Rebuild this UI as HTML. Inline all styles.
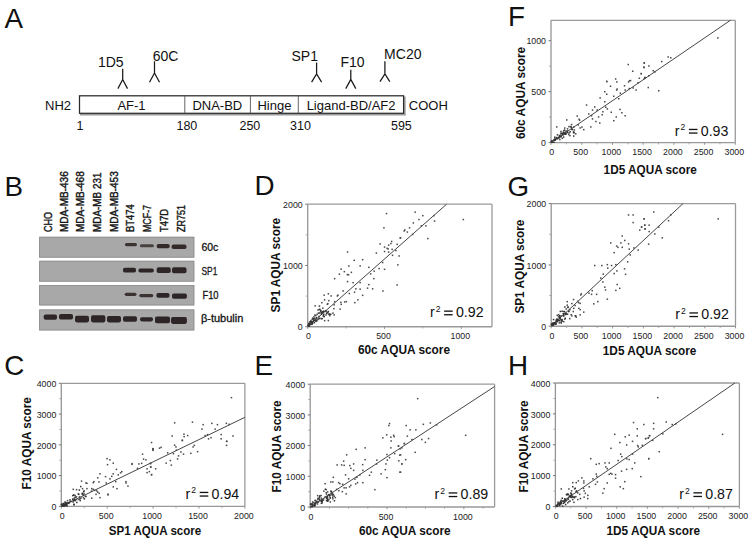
<!DOCTYPE html>
<html><head><meta charset="utf-8"><style>
html,body{margin:0;padding:0;background:#fff;width:750px;height:543px;overflow:hidden}
svg{display:block;font-family:"Liberation Sans", sans-serif}
</style></head><body>
<svg width="750" height="543" viewBox="0 0 750 543">
<rect width="750" height="543" fill="#fff"/>
<text x="4.6" y="28.3" font-size="27.8" fill="#111">A</text>
<text x="4.6" y="196.2" font-size="27.8" fill="#111">B</text>
<text x="4.2" y="375" font-size="27.8" fill="#111">C</text>
<text x="254.6" y="194.8" font-size="27.8" fill="#111">D</text>
<text x="254.6" y="374.5" font-size="27.8" fill="#111">E</text>
<text x="508.0" y="25.8" font-size="27.8" fill="#111">F</text>
<text x="507.4" y="195.8" font-size="27.8" fill="#111">G</text>
<text x="508.0" y="375.4" font-size="27.8" fill="#111">H</text>
<line x1="80.0" y1="114.6" x2="405.40000000000003" y2="114.6" stroke="#9a9a9a" stroke-width="1.6"/>
<line x1="404.90000000000003" y1="96.39999999999999" x2="404.90000000000003" y2="115.3" stroke="#9a9a9a" stroke-width="1.5"/>
<rect x="79.5" y="95.8" width="324.1" height="17.5" fill="#fff" stroke="#2a2a2a" stroke-width="1.25"/>
<line x1="184.8" y1="95.8" x2="184.8" y2="113.3" stroke="#555" stroke-width="0.9"/>
<line x1="250.4" y1="95.8" x2="250.4" y2="113.3" stroke="#555" stroke-width="0.9"/>
<line x1="298.3" y1="95.8" x2="298.3" y2="113.3" stroke="#555" stroke-width="0.9"/>
<text x="131.5" y="110" font-size="13" text-anchor="middle" font-weight="normal" fill="#111" >AF-1</text>
<text x="217.3" y="110" font-size="13" text-anchor="middle" font-weight="normal" fill="#111" >DNA-BD</text>
<text x="274.4" y="110" font-size="13" text-anchor="middle" font-weight="normal" fill="#111" >Hinge</text>
<text x="351.1" y="110" font-size="13" text-anchor="middle" font-weight="normal" fill="#111" >Ligand-BD/AF2</text>
<text x="45.0" y="110" font-size="13" text-anchor="start" font-weight="normal" fill="#111" >NH2</text>
<text x="408.8" y="110" font-size="13" text-anchor="start" font-weight="normal" fill="#111" >COOH</text>
<text x="80" y="129.6" font-size="12.5" text-anchor="middle" font-weight="normal" fill="#111" >1</text>
<text x="186.9" y="129.6" font-size="12.5" text-anchor="middle" font-weight="normal" fill="#111" >180</text>
<text x="249.9" y="129.6" font-size="12.5" text-anchor="middle" font-weight="normal" fill="#111" >250</text>
<text x="300.5" y="129.6" font-size="12.5" text-anchor="middle" font-weight="normal" fill="#111" >310</text>
<text x="401.4" y="129.6" font-size="12.5" text-anchor="middle" font-weight="normal" fill="#111" >595</text>
<text x="110.8" y="67" font-size="14" text-anchor="middle" font-weight="normal" fill="#111" >1D5</text>
<text x="165.5" y="60.7" font-size="14" text-anchor="middle" font-weight="normal" fill="#111" >60C</text>
<text x="304.7" y="60.7" font-size="14" text-anchor="middle" font-weight="normal" fill="#111" >SP1</text>
<text x="352.5" y="66.7" font-size="14" text-anchor="middle" font-weight="normal" fill="#111" >F10</text>
<text x="402.8" y="59.2" font-size="14" text-anchor="middle" font-weight="normal" fill="#111" >MC20</text>
<path d="M122.7 68.8 L122.7 79.5 M117.9 88.6 L122.7 79.5 L127.5 88.6" stroke="#1a1a1a" stroke-width="1.25" fill="none"/>
<path d="M154.5 61.3 L154.5 73 M149.5 82.2 L154.5 73 L159.5 82.2" stroke="#1a1a1a" stroke-width="1.25" fill="none"/>
<path d="M316.6 62.4 L316.6 74 M311.6 82.2 L316.6 74 L321.6 82.2" stroke="#1a1a1a" stroke-width="1.25" fill="none"/>
<path d="M350.8 69.8 L350.8 79.4 M345.8 88.6 L350.8 79.4 L355.8 88.6" stroke="#1a1a1a" stroke-width="1.25" fill="none"/>
<path d="M384.9 61.3 L384.9 74 M380.0 81.6 L384.9 74 L389.79999999999995 81.6" stroke="#1a1a1a" stroke-width="1.25" fill="none"/>
<text transform="translate(51.8,232) rotate(-90)" font-size="10.5" fill="#151515" stroke="#151515" stroke-width="0.4" textLength="20.1" lengthAdjust="spacingAndGlyphs">CHO</text>
<text transform="translate(67.7,232) rotate(-90)" font-size="10.5" fill="#151515" stroke="#151515" stroke-width="0.4" textLength="60.8" lengthAdjust="spacingAndGlyphs">MDA-MB-436</text>
<text transform="translate(84.2,232) rotate(-90)" font-size="10.5" fill="#151515" stroke="#151515" stroke-width="0.4" textLength="60.8" lengthAdjust="spacingAndGlyphs">MDA-MB-468</text>
<text transform="translate(101.2,232) rotate(-90)" font-size="10.5" fill="#151515" stroke="#151515" stroke-width="0.4" textLength="59.4" lengthAdjust="spacingAndGlyphs">MDA-MB 231</text>
<text transform="translate(118.1,232) rotate(-90)" font-size="10.5" fill="#151515" stroke="#151515" stroke-width="0.4" textLength="60.8" lengthAdjust="spacingAndGlyphs">MDA-MB-453</text>
<text transform="translate(133.8,232) rotate(-90)" font-size="10.5" fill="#151515" stroke="#151515" stroke-width="0.4" textLength="27.6" lengthAdjust="spacingAndGlyphs">BT474</text>
<text transform="translate(151.4,232) rotate(-90)" font-size="10.5" fill="#151515" stroke="#151515" stroke-width="0.4" textLength="27.0" lengthAdjust="spacingAndGlyphs">MCF-7</text>
<text transform="translate(168.4,232) rotate(-90)" font-size="10.5" fill="#151515" stroke="#151515" stroke-width="0.4" textLength="23.1" lengthAdjust="spacingAndGlyphs">T47D</text>
<text transform="translate(184.5,232) rotate(-90)" font-size="10.5" fill="#151515" stroke="#151515" stroke-width="0.4" textLength="27.0" lengthAdjust="spacingAndGlyphs">ZR751</text>
<defs><filter id="bl" x="-20%" y="-50%" width="140%" height="200%"><feGaussianBlur stdDeviation="0.55"/></filter></defs>
<rect x="39.2" y="236.8" width="155.1" height="20.80000000000001" fill="#a8a8a8"/>
<rect x="39.6" y="237.20000000000002" width="154.3" height="20.00000000000001" fill="none" stroke="#8c8c8c" stroke-width="0.8"/>
<rect x="39.2" y="260.8" width="155.1" height="20.80000000000001" fill="#a8a8a8"/>
<rect x="39.6" y="261.2" width="154.3" height="20.00000000000001" fill="none" stroke="#8c8c8c" stroke-width="0.8"/>
<rect x="39.2" y="285.0" width="155.1" height="20.399999999999977" fill="#a8a8a8"/>
<rect x="39.6" y="285.4" width="154.3" height="19.599999999999977" fill="none" stroke="#8c8c8c" stroke-width="0.8"/>
<rect x="39.2" y="309.5" width="155.1" height="20.899999999999977" fill="#a8a8a8"/>
<rect x="39.6" y="309.9" width="154.3" height="20.099999999999977" fill="none" stroke="#8c8c8c" stroke-width="0.8"/>
<rect x="124.9" y="243.0" width="12.1" height="3.2" rx="1.6" ry="1.6" fill="#3a3030" filter="url(#bl)"/>
<rect x="139.9" y="244.2" width="14.0" height="3.0" rx="1.5" ry="1.5" fill="#4a4040" filter="url(#bl)"/>
<rect x="156.7" y="244.0" width="13.0" height="4.2" rx="1.8" ry="1.8" fill="#352b2b" filter="url(#bl)"/>
<rect x="171.6" y="244.6" width="14.9" height="4.4" rx="1.8" ry="1.8" fill="#352b2b" filter="url(#bl)"/>
<rect x="123.0" y="267.7" width="13.0" height="4.9" rx="1.8" ry="1.8" fill="#2e2626" filter="url(#bl)"/>
<rect x="138.4" y="268.6" width="15.5" height="4.0" rx="1.8" ry="1.8" fill="#2e2626" filter="url(#bl)"/>
<rect x="156.7" y="267.3" width="14.0" height="5.7" rx="1.8" ry="1.8" fill="#2e2626" filter="url(#bl)"/>
<rect x="172.0" y="267.3" width="14.5" height="6.0" rx="1.8" ry="1.8" fill="#2e2626" filter="url(#bl)"/>
<rect x="124.7" y="292.7" width="11.8" height="3.2" rx="1.6" ry="1.6" fill="#3a3030" filter="url(#bl)"/>
<rect x="139.3" y="294.0" width="14.0" height="3.2" rx="1.6" ry="1.6" fill="#3a3030" filter="url(#bl)"/>
<rect x="156.4" y="293.0" width="13.1" height="4.7" rx="1.8" ry="1.8" fill="#2e2626" filter="url(#bl)"/>
<rect x="172.0" y="293.4" width="14.9" height="5.3" rx="1.8" ry="1.8" fill="#2e2626" filter="url(#bl)"/>
<rect x="43.7" y="314.4" width="13.3" height="5.3" rx="1.8" ry="1.8" fill="#2e2626" filter="url(#bl)"/>
<rect x="59.0" y="314.1" width="14.0" height="5.4" rx="1.8" ry="1.8" fill="#2e2626" filter="url(#bl)"/>
<rect x="75.0" y="315.7" width="14.0" height="6.7" rx="1.8" ry="1.8" fill="#2e2626" filter="url(#bl)"/>
<rect x="91.0" y="315.3" width="14.4" height="7.1" rx="1.8" ry="1.8" fill="#2e2626" filter="url(#bl)"/>
<rect x="107.0" y="316.0" width="14.0" height="6.4" rx="1.8" ry="1.8" fill="#2e2626" filter="url(#bl)"/>
<rect x="123.0" y="316.3" width="14.0" height="5.5" rx="1.8" ry="1.8" fill="#2e2626" filter="url(#bl)"/>
<rect x="140.0" y="317.3" width="13.0" height="4.1" rx="1.8" ry="1.8" fill="#2e2626" filter="url(#bl)"/>
<rect x="155.0" y="316.4" width="15.0" height="6.9" rx="1.8" ry="1.8" fill="#2e2626" filter="url(#bl)"/>
<rect x="171.0" y="317.0" width="15.9" height="6.9" rx="1.8" ry="1.8" fill="#2e2626" filter="url(#bl)"/>
<text x="201.5" y="250.9" font-size="10.5" fill="#151515" stroke="#151515" stroke-width="0.3" textLength="16.8" lengthAdjust="spacingAndGlyphs">60c</text>
<text x="201.5" y="274.8" font-size="10.5" fill="#151515" stroke="#151515" stroke-width="0.3" textLength="15.8" lengthAdjust="spacingAndGlyphs">SP1</text>
<text x="202.4" y="299" font-size="10.5" fill="#151515" stroke="#151515" stroke-width="0.3" textLength="16.2" lengthAdjust="spacingAndGlyphs">F10</text>
<text x="200.9" y="322" font-size="10.5" fill="#151515" stroke="#151515" stroke-width="0.3" textLength="42.5" lengthAdjust="spacingAndGlyphs">β-tubulin</text>
<line x1="61.3" y1="383.3" x2="244.9" y2="383.3" stroke="#9a9a9a" stroke-width="1.3"/>
<line x1="244.9" y1="383.3" x2="244.9" y2="506.4" stroke="#9a9a9a" stroke-width="1.3"/>
<line x1="61.3" y1="506.4" x2="244.9" y2="506.4" stroke="#999" stroke-width="1.4"/>
<line x1="61.3" y1="383.3" x2="61.3" y2="506.4" stroke="#959595" stroke-width="1.3"/>
<line x1="58.8" y1="506.4" x2="61.3" y2="506.4" stroke="#777" stroke-width="1"/>
<text x="56.3" y="510.0" font-size="9.8" text-anchor="end" fill="#222" textLength="4.9" lengthAdjust="spacingAndGlyphs">0</text>
<line x1="58.8" y1="475.625" x2="61.3" y2="475.625" stroke="#777" stroke-width="1"/>
<text x="56.3" y="479.2" font-size="9.8" text-anchor="end" fill="#222" textLength="19.6" lengthAdjust="spacingAndGlyphs">1000</text>
<line x1="58.8" y1="444.85" x2="61.3" y2="444.85" stroke="#777" stroke-width="1"/>
<text x="56.3" y="448.5" font-size="9.8" text-anchor="end" fill="#222" textLength="19.6" lengthAdjust="spacingAndGlyphs">2000</text>
<line x1="58.8" y1="414.075" x2="61.3" y2="414.075" stroke="#777" stroke-width="1"/>
<text x="56.3" y="417.7" font-size="9.8" text-anchor="end" fill="#222" textLength="19.6" lengthAdjust="spacingAndGlyphs">3000</text>
<line x1="58.8" y1="383.3" x2="61.3" y2="383.3" stroke="#777" stroke-width="1"/>
<text x="56.3" y="386.9" font-size="9.8" text-anchor="end" fill="#222" textLength="19.6" lengthAdjust="spacingAndGlyphs">4000</text>
<line x1="59.3" y1="491.0125" x2="61.3" y2="491.0125" stroke="#999" stroke-width="0.8"/>
<line x1="59.3" y1="460.2375" x2="61.3" y2="460.2375" stroke="#999" stroke-width="0.8"/>
<line x1="59.3" y1="429.4625" x2="61.3" y2="429.4625" stroke="#999" stroke-width="0.8"/>
<line x1="59.3" y1="398.6875" x2="61.3" y2="398.6875" stroke="#999" stroke-width="0.8"/>
<line x1="61.3" y1="506.4" x2="61.3" y2="508.59999999999997" stroke="#888" stroke-width="0.9"/>
<text x="62.1" y="518.9" font-size="9.8" text-anchor="middle" fill="#222" textLength="4.9" lengthAdjust="spacingAndGlyphs">0</text>
<line x1="107.2" y1="506.4" x2="107.2" y2="508.59999999999997" stroke="#888" stroke-width="0.9"/>
<text x="106.2" y="518.9" font-size="9.8" text-anchor="middle" fill="#222" textLength="14.7" lengthAdjust="spacingAndGlyphs">500</text>
<line x1="153.10000000000002" y1="506.4" x2="153.10000000000002" y2="508.59999999999997" stroke="#888" stroke-width="0.9"/>
<text x="152.1" y="518.9" font-size="9.8" text-anchor="middle" fill="#222" textLength="19.6" lengthAdjust="spacingAndGlyphs">1000</text>
<line x1="199.0" y1="506.4" x2="199.0" y2="508.59999999999997" stroke="#888" stroke-width="0.9"/>
<text x="198.0" y="518.9" font-size="9.8" text-anchor="middle" fill="#222" textLength="19.6" lengthAdjust="spacingAndGlyphs">1500</text>
<line x1="244.90000000000003" y1="506.4" x2="244.90000000000003" y2="508.59999999999997" stroke="#888" stroke-width="0.9"/>
<text x="243.9" y="518.9" font-size="9.8" text-anchor="middle" fill="#222" textLength="19.6" lengthAdjust="spacingAndGlyphs">2000</text>
<line x1="84.25" y1="506.4" x2="84.25" y2="508.2" stroke="#999" stroke-width="0.8"/>
<line x1="130.15" y1="506.4" x2="130.15" y2="508.2" stroke="#999" stroke-width="0.8"/>
<line x1="176.05" y1="506.4" x2="176.05" y2="508.2" stroke="#999" stroke-width="0.8"/>
<line x1="221.95" y1="506.4" x2="221.95" y2="508.2" stroke="#999" stroke-width="0.8"/>
<line x1="61.3" y1="506.4" x2="244.9" y2="417.3" stroke="#3c3c3c" stroke-width="0.95"/>
<rect x="152.3" y="448.1" width="1.5" height="1.5" fill="#484848"/>
<rect x="152.3" y="449.6" width="1.5" height="1.5" fill="#484848"/>
<rect x="141.8" y="453.4" width="1.5" height="1.5" fill="#484848"/>
<rect x="145.2" y="459.1" width="1.5" height="1.5" fill="#484848"/>
<rect x="142.8" y="458.4" width="1.5" height="1.5" fill="#484848"/>
<rect x="106.3" y="457.9" width="1.5" height="1.5" fill="#484848"/>
<rect x="109.2" y="459.1" width="1.5" height="1.5" fill="#484848"/>
<rect x="106.8" y="463.9" width="1.5" height="1.5" fill="#484848"/>
<rect x="112.5" y="462.4" width="1.5" height="1.5" fill="#484848"/>
<rect x="131.4" y="462.9" width="1.5" height="1.5" fill="#484848"/>
<rect x="131.2" y="463.6" width="1.5" height="1.5" fill="#484848"/>
<rect x="138.1" y="463.2" width="1.5" height="1.5" fill="#484848"/>
<rect x="140.9" y="462.6" width="1.5" height="1.5" fill="#484848"/>
<rect x="149.8" y="462.9" width="1.5" height="1.5" fill="#484848"/>
<rect x="150.2" y="466.4" width="1.5" height="1.5" fill="#484848"/>
<rect x="146.3" y="468.1" width="1.5" height="1.5" fill="#484848"/>
<rect x="136.8" y="467.6" width="1.5" height="1.5" fill="#484848"/>
<rect x="146.3" y="471.9" width="1.5" height="1.5" fill="#484848"/>
<rect x="148.6" y="470.9" width="1.5" height="1.5" fill="#484848"/>
<rect x="150.8" y="474.1" width="1.5" height="1.5" fill="#484848"/>
<rect x="115.7" y="468.6" width="1.5" height="1.5" fill="#484848"/>
<rect x="121.0" y="470.9" width="1.5" height="1.5" fill="#484848"/>
<rect x="119.8" y="472.1" width="1.5" height="1.5" fill="#484848"/>
<rect x="117.5" y="474.1" width="1.5" height="1.5" fill="#484848"/>
<rect x="99.2" y="473.1" width="1.5" height="1.5" fill="#484848"/>
<rect x="97.0" y="477.1" width="1.5" height="1.5" fill="#484848"/>
<rect x="104.8" y="475.9" width="1.5" height="1.5" fill="#484848"/>
<rect x="111.0" y="475.6" width="1.5" height="1.5" fill="#484848"/>
<rect x="112.5" y="473.1" width="1.5" height="1.5" fill="#484848"/>
<rect x="109.2" y="478.1" width="1.5" height="1.5" fill="#484848"/>
<rect x="93.2" y="480.9" width="1.5" height="1.5" fill="#484848"/>
<rect x="92.5" y="481.9" width="1.5" height="1.5" fill="#484848"/>
<rect x="98.2" y="481.2" width="1.5" height="1.5" fill="#484848"/>
<rect x="85.2" y="482.2" width="1.5" height="1.5" fill="#484848"/>
<rect x="86.2" y="482.6" width="1.5" height="1.5" fill="#484848"/>
<rect x="80.8" y="480.4" width="1.5" height="1.5" fill="#484848"/>
<rect x="105.5" y="482.2" width="1.5" height="1.5" fill="#484848"/>
<rect x="115.0" y="480.9" width="1.5" height="1.5" fill="#484848"/>
<rect x="125.2" y="480.9" width="1.5" height="1.5" fill="#484848"/>
<rect x="125.3" y="482.2" width="1.5" height="1.5" fill="#484848"/>
<rect x="127.2" y="485.4" width="1.5" height="1.5" fill="#484848"/>
<rect x="112.5" y="486.1" width="1.5" height="1.5" fill="#484848"/>
<rect x="116.2" y="487.9" width="1.5" height="1.5" fill="#484848"/>
<rect x="72.5" y="488.6" width="1.5" height="1.5" fill="#484848"/>
<rect x="75.8" y="488.9" width="1.5" height="1.5" fill="#484848"/>
<rect x="81.8" y="487.9" width="1.5" height="1.5" fill="#484848"/>
<rect x="86.2" y="487.9" width="1.5" height="1.5" fill="#484848"/>
<rect x="91.0" y="487.9" width="1.5" height="1.5" fill="#484848"/>
<rect x="92.5" y="488.6" width="1.5" height="1.5" fill="#484848"/>
<rect x="94.0" y="489.6" width="1.5" height="1.5" fill="#484848"/>
<rect x="96.0" y="490.1" width="1.5" height="1.5" fill="#484848"/>
<rect x="97.0" y="491.4" width="1.5" height="1.5" fill="#484848"/>
<rect x="90.7" y="490.4" width="1.5" height="1.5" fill="#484848"/>
<rect x="98.5" y="492.6" width="1.5" height="1.5" fill="#484848"/>
<rect x="95.3" y="493.6" width="1.5" height="1.5" fill="#484848"/>
<rect x="107.2" y="493.4" width="1.5" height="1.5" fill="#484848"/>
<rect x="107.3" y="494.2" width="1.5" height="1.5" fill="#484848"/>
<rect x="99.2" y="496.9" width="1.5" height="1.5" fill="#484848"/>
<rect x="91.0" y="497.4" width="1.5" height="1.5" fill="#484848"/>
<rect x="83.3" y="489.9" width="1.5" height="1.5" fill="#484848"/>
<rect x="83.3" y="493.1" width="1.5" height="1.5" fill="#484848"/>
<rect x="85.2" y="495.6" width="1.5" height="1.5" fill="#484848"/>
<rect x="82.7" y="496.9" width="1.5" height="1.5" fill="#484848"/>
<rect x="78.2" y="493.6" width="1.5" height="1.5" fill="#484848"/>
<rect x="78.8" y="496.1" width="1.5" height="1.5" fill="#484848"/>
<rect x="80.2" y="497.4" width="1.5" height="1.5" fill="#484848"/>
<rect x="74.5" y="494.9" width="1.5" height="1.5" fill="#484848"/>
<rect x="75.8" y="496.1" width="1.5" height="1.5" fill="#484848"/>
<rect x="72.0" y="494.9" width="1.5" height="1.5" fill="#484848"/>
<rect x="73.2" y="494.2" width="1.5" height="1.5" fill="#484848"/>
<rect x="75.8" y="498.8" width="1.5" height="1.5" fill="#484848"/>
<rect x="74.5" y="499.9" width="1.5" height="1.5" fill="#484848"/>
<rect x="72.0" y="498.8" width="1.5" height="1.5" fill="#484848"/>
<rect x="66.8" y="499.9" width="1.5" height="1.5" fill="#484848"/>
<rect x="64.3" y="501.2" width="1.5" height="1.5" fill="#484848"/>
<rect x="69.3" y="500.6" width="1.5" height="1.5" fill="#484848"/>
<rect x="68.2" y="501.9" width="1.5" height="1.5" fill="#484848"/>
<rect x="61.8" y="503.1" width="1.5" height="1.5" fill="#484848"/>
<rect x="63.0" y="502.6" width="1.5" height="1.5" fill="#484848"/>
<rect x="60.5" y="503.8" width="1.5" height="1.5" fill="#484848"/>
<rect x="65.5" y="502.6" width="1.5" height="1.5" fill="#484848"/>
<rect x="79.5" y="499.9" width="1.5" height="1.5" fill="#484848"/>
<rect x="78.2" y="498.8" width="1.5" height="1.5" fill="#484848"/>
<rect x="230.7" y="396.9" width="1.5" height="1.5" fill="#484848"/>
<rect x="173.9" y="422.1" width="1.5" height="1.5" fill="#484848"/>
<rect x="191.7" y="421.4" width="1.5" height="1.5" fill="#484848"/>
<rect x="202.4" y="423.9" width="1.5" height="1.5" fill="#484848"/>
<rect x="211.1" y="422.6" width="1.5" height="1.5" fill="#484848"/>
<rect x="216.7" y="423.9" width="1.5" height="1.5" fill="#484848"/>
<rect x="225.6" y="422.6" width="1.5" height="1.5" fill="#484848"/>
<rect x="228.4" y="423.6" width="1.5" height="1.5" fill="#484848"/>
<rect x="201.2" y="428.4" width="1.5" height="1.5" fill="#484848"/>
<rect x="214.4" y="428.4" width="1.5" height="1.5" fill="#484848"/>
<rect x="171.4" y="435.2" width="1.5" height="1.5" fill="#484848"/>
<rect x="183.2" y="433.4" width="1.5" height="1.5" fill="#484848"/>
<rect x="183.4" y="435.9" width="1.5" height="1.5" fill="#484848"/>
<rect x="186.9" y="434.8" width="1.5" height="1.5" fill="#484848"/>
<rect x="204.3" y="434.9" width="1.5" height="1.5" fill="#484848"/>
<rect x="206.8" y="433.9" width="1.5" height="1.5" fill="#484848"/>
<rect x="220.4" y="433.8" width="1.5" height="1.5" fill="#484848"/>
<rect x="232.2" y="435.2" width="1.5" height="1.5" fill="#484848"/>
<rect x="181.6" y="439.4" width="1.5" height="1.5" fill="#484848"/>
<rect x="207.8" y="438.1" width="1.5" height="1.5" fill="#484848"/>
<rect x="210.3" y="436.9" width="1.5" height="1.5" fill="#484848"/>
<rect x="220.4" y="438.1" width="1.5" height="1.5" fill="#484848"/>
<rect x="226.2" y="440.6" width="1.5" height="1.5" fill="#484848"/>
<rect x="181.6" y="439.9" width="1.5" height="1.5" fill="#484848"/>
<rect x="150.8" y="441.8" width="1.5" height="1.5" fill="#484848"/>
<rect x="152.1" y="447.9" width="1.5" height="1.5" fill="#484848"/>
<rect x="152.1" y="449.1" width="1.5" height="1.5" fill="#484848"/>
<rect x="158.8" y="447.4" width="1.5" height="1.5" fill="#484848"/>
<rect x="160.3" y="446.6" width="1.5" height="1.5" fill="#484848"/>
<rect x="173.9" y="444.4" width="1.5" height="1.5" fill="#484848"/>
<rect x="175.2" y="446.2" width="1.5" height="1.5" fill="#484848"/>
<rect x="193.6" y="444.6" width="1.5" height="1.5" fill="#484848"/>
<rect x="192.3" y="446.2" width="1.5" height="1.5" fill="#484848"/>
<rect x="166.9" y="452.1" width="1.5" height="1.5" fill="#484848"/>
<rect x="172.7" y="452.9" width="1.5" height="1.5" fill="#484848"/>
<rect x="175.6" y="449.4" width="1.5" height="1.5" fill="#484848"/>
<rect x="180.2" y="451.2" width="1.5" height="1.5" fill="#484848"/>
<rect x="182.8" y="453.4" width="1.5" height="1.5" fill="#484848"/>
<rect x="190.1" y="452.6" width="1.5" height="1.5" fill="#484848"/>
<rect x="196.8" y="450.9" width="1.5" height="1.5" fill="#484848"/>
<rect x="177.8" y="455.1" width="1.5" height="1.5" fill="#484848"/>
<rect x="176.8" y="458.2" width="1.5" height="1.5" fill="#484848"/>
<rect x="169.6" y="459.8" width="1.5" height="1.5" fill="#484848"/>
<rect x="165.4" y="462.4" width="1.5" height="1.5" fill="#484848"/>
<rect x="170.6" y="464.4" width="1.5" height="1.5" fill="#484848"/>
<rect x="149.8" y="462.6" width="1.5" height="1.5" fill="#484848"/>
<rect x="149.8" y="466.1" width="1.5" height="1.5" fill="#484848"/>
<rect x="154.9" y="468.1" width="1.5" height="1.5" fill="#484848"/>
<rect x="150.8" y="473.8" width="1.5" height="1.5" fill="#484848"/>
<rect x="225.8" y="440.6" width="1.5" height="1.5" fill="#484848"/>
<rect x="225.8" y="444.6" width="1.5" height="1.5" fill="#484848"/>
<rect x="61.4" y="503.6" width="1.5" height="1.5" fill="#333"/>
<rect x="77.5" y="493.2" width="1.5" height="1.5" fill="#333"/>
<rect x="61.4" y="504.2" width="1.5" height="1.5" fill="#333"/>
<rect x="62.1" y="505.0" width="1.5" height="1.5" fill="#333"/>
<rect x="76.1" y="501.7" width="1.5" height="1.5" fill="#333"/>
<rect x="64.6" y="502.0" width="1.5" height="1.5" fill="#333"/>
<rect x="66.4" y="505.3" width="1.5" height="1.5" fill="#333"/>
<rect x="66.4" y="501.9" width="1.5" height="1.5" fill="#333"/>
<rect x="61.5" y="505.3" width="1.5" height="1.5" fill="#333"/>
<rect x="63.3" y="505.3" width="1.5" height="1.5" fill="#333"/>
<rect x="73.2" y="503.5" width="1.5" height="1.5" fill="#333"/>
<rect x="66.3" y="503.3" width="1.5" height="1.5" fill="#333"/>
<rect x="65.1" y="504.7" width="1.5" height="1.5" fill="#333"/>
<rect x="64.7" y="503.8" width="1.5" height="1.5" fill="#333"/>
<rect x="79.1" y="498.2" width="1.5" height="1.5" fill="#333"/>
<rect x="73.1" y="499.7" width="1.5" height="1.5" fill="#333"/>
<rect x="72.3" y="498.2" width="1.5" height="1.5" fill="#333"/>
<rect x="64.9" y="502.9" width="1.5" height="1.5" fill="#333"/>
<rect x="65.0" y="503.7" width="1.5" height="1.5" fill="#333"/>
<rect x="65.3" y="503.3" width="1.5" height="1.5" fill="#333"/>
<rect x="74.0" y="499.0" width="1.5" height="1.5" fill="#333"/>
<rect x="82.6" y="494.2" width="1.5" height="1.5" fill="#333"/>
<rect x="81.6" y="492.5" width="1.5" height="1.5" fill="#333"/>
<rect x="81.5" y="493.4" width="1.5" height="1.5" fill="#333"/>
<rect x="65.7" y="504.5" width="1.5" height="1.5" fill="#333"/>
<rect x="64.6" y="503.8" width="1.5" height="1.5" fill="#333"/>
<rect x="68.0" y="502.6" width="1.5" height="1.5" fill="#333"/>
<rect x="70.2" y="500.7" width="1.5" height="1.5" fill="#333"/>
<rect x="78.6" y="489.3" width="1.5" height="1.5" fill="#333"/>
<rect x="63.7" y="505.3" width="1.5" height="1.5" fill="#333"/>
<rect x="72.8" y="494.5" width="1.5" height="1.5" fill="#333"/>
<rect x="62.7" y="505.3" width="1.5" height="1.5" fill="#333"/>
<rect x="62.8" y="504.5" width="1.5" height="1.5" fill="#333"/>
<rect x="74.7" y="496.5" width="1.5" height="1.5" fill="#333"/>
<rect x="73.8" y="497.2" width="1.5" height="1.5" fill="#333"/>
<rect x="83.0" y="491.0" width="1.5" height="1.5" fill="#333"/>
<rect x="83.6" y="498.1" width="1.5" height="1.5" fill="#333"/>
<rect x="68.0" y="502.0" width="1.5" height="1.5" fill="#333"/>
<rect x="62.3" y="504.5" width="1.5" height="1.5" fill="#333"/>
<rect x="65.4" y="503.1" width="1.5" height="1.5" fill="#333"/>
<rect x="64.1" y="503.4" width="1.5" height="1.5" fill="#333"/>
<rect x="73.6" y="499.5" width="1.5" height="1.5" fill="#333"/>
<rect x="84.7" y="495.7" width="1.5" height="1.5" fill="#333"/>
<rect x="69.3" y="499.1" width="1.5" height="1.5" fill="#333"/>
<rect x="72.4" y="501.2" width="1.5" height="1.5" fill="#333"/>
<rect x="62.1" y="504.2" width="1.5" height="1.5" fill="#333"/>
<rect x="80.0" y="485.8" width="1.5" height="1.5" fill="#333"/>
<rect x="62.1" y="504.0" width="1.5" height="1.5" fill="#333"/>
<rect x="63.0" y="503.9" width="1.5" height="1.5" fill="#333"/>
<rect x="73.3" y="504.1" width="1.5" height="1.5" fill="#333"/>
<text x="108.8" y="535.1" font-size="12.5" font-weight="bold" fill="#111" textLength="92.5" lengthAdjust="spacingAndGlyphs">SP1 AQUA score</text>
<text transform="translate(31.3,489.5) rotate(-90)" font-size="12.5" font-weight="bold" fill="#111" textLength="92.3" lengthAdjust="spacingAndGlyphs">F10 AQUA score</text>
<text x="239.2" y="498.7" font-size="14.2" text-anchor="end" fill="#111">0.94</text>
<rect x="199.7" y="491.8" width="8.6" height="1.3" fill="#111"/>
<rect x="199.7" y="495.4" width="8.6" height="1.3" fill="#111"/>
<text x="193.7" y="493.3" font-size="8.6" text-anchor="middle" fill="#111">2</text>
<text x="185.6" y="498.7" font-size="14.2" fill="#111">r</text>
<line x1="307.7" y1="204.2" x2="492.0" y2="204.2" stroke="#9a9a9a" stroke-width="1.3"/>
<line x1="492.0" y1="204.2" x2="492.0" y2="326.7" stroke="#9a9a9a" stroke-width="1.3"/>
<line x1="307.7" y1="326.7" x2="492.0" y2="326.7" stroke="#999" stroke-width="1.4"/>
<line x1="307.7" y1="204.2" x2="307.7" y2="326.7" stroke="#959595" stroke-width="1.3"/>
<line x1="305.2" y1="326.7" x2="307.7" y2="326.7" stroke="#777" stroke-width="1"/>
<text x="302.7" y="330.3" font-size="9.8" text-anchor="end" fill="#222" textLength="4.9" lengthAdjust="spacingAndGlyphs">0</text>
<line x1="305.2" y1="265.45" x2="307.7" y2="265.45" stroke="#777" stroke-width="1"/>
<text x="302.7" y="269.1" font-size="9.8" text-anchor="end" fill="#222" textLength="19.6" lengthAdjust="spacingAndGlyphs">1000</text>
<line x1="305.2" y1="204.2" x2="307.7" y2="204.2" stroke="#777" stroke-width="1"/>
<text x="302.7" y="207.8" font-size="9.8" text-anchor="end" fill="#222" textLength="19.6" lengthAdjust="spacingAndGlyphs">2000</text>
<line x1="305.7" y1="296.075" x2="307.7" y2="296.075" stroke="#999" stroke-width="0.8"/>
<line x1="305.7" y1="234.825" x2="307.7" y2="234.825" stroke="#999" stroke-width="0.8"/>
<line x1="307.7" y1="326.7" x2="307.7" y2="328.9" stroke="#888" stroke-width="0.9"/>
<text x="308.5" y="339.2" font-size="9.8" text-anchor="middle" fill="#222" textLength="4.9" lengthAdjust="spacingAndGlyphs">0</text>
<line x1="384.4916666666667" y1="326.7" x2="384.4916666666667" y2="328.9" stroke="#888" stroke-width="0.9"/>
<text x="383.5" y="339.2" font-size="9.8" text-anchor="middle" fill="#222" textLength="14.7" lengthAdjust="spacingAndGlyphs">500</text>
<line x1="461.2833333333333" y1="326.7" x2="461.2833333333333" y2="328.9" stroke="#888" stroke-width="0.9"/>
<text x="460.3" y="339.2" font-size="9.8" text-anchor="middle" fill="#222" textLength="19.6" lengthAdjust="spacingAndGlyphs">1000</text>
<line x1="346.0958333333333" y1="326.7" x2="346.0958333333333" y2="328.5" stroke="#999" stroke-width="0.8"/>
<line x1="422.8875" y1="326.7" x2="422.8875" y2="328.5" stroke="#999" stroke-width="0.8"/>
<line x1="307.7" y1="326.7" x2="446.6" y2="204.2" stroke="#3c3c3c" stroke-width="0.95"/>
<rect x="348.1" y="265.2" width="1.5" height="1.5" fill="#484848"/>
<rect x="359.4" y="265.2" width="1.5" height="1.5" fill="#484848"/>
<rect x="368.1" y="266.6" width="1.5" height="1.5" fill="#484848"/>
<rect x="340.4" y="268.4" width="1.5" height="1.5" fill="#484848"/>
<rect x="343.6" y="270.9" width="1.5" height="1.5" fill="#484848"/>
<rect x="346.6" y="273.8" width="1.5" height="1.5" fill="#484848"/>
<rect x="347.8" y="274.1" width="1.5" height="1.5" fill="#484848"/>
<rect x="350.6" y="271.6" width="1.5" height="1.5" fill="#484848"/>
<rect x="338.6" y="273.4" width="1.5" height="1.5" fill="#484848"/>
<rect x="333.9" y="277.9" width="1.5" height="1.5" fill="#484848"/>
<rect x="346.8" y="280.8" width="1.5" height="1.5" fill="#484848"/>
<rect x="352.4" y="281.9" width="1.5" height="1.5" fill="#484848"/>
<rect x="359.4" y="281.9" width="1.5" height="1.5" fill="#484848"/>
<rect x="369.9" y="273.1" width="1.5" height="1.5" fill="#484848"/>
<rect x="373.1" y="277.9" width="1.5" height="1.5" fill="#484848"/>
<rect x="373.4" y="270.4" width="1.5" height="1.5" fill="#484848"/>
<rect x="378.4" y="267.8" width="1.5" height="1.5" fill="#484848"/>
<rect x="383.8" y="268.6" width="1.5" height="1.5" fill="#484848"/>
<rect x="368.1" y="283.9" width="1.5" height="1.5" fill="#484848"/>
<rect x="366.8" y="287.4" width="1.5" height="1.5" fill="#484848"/>
<rect x="371.9" y="288.1" width="1.5" height="1.5" fill="#484848"/>
<rect x="355.1" y="288.1" width="1.5" height="1.5" fill="#484848"/>
<rect x="359.4" y="288.4" width="1.5" height="1.5" fill="#484848"/>
<rect x="382.2" y="290.2" width="1.5" height="1.5" fill="#484848"/>
<rect x="396.4" y="284.2" width="1.5" height="1.5" fill="#484848"/>
<rect x="342.4" y="290.2" width="1.5" height="1.5" fill="#484848"/>
<rect x="337.2" y="294.4" width="1.5" height="1.5" fill="#484848"/>
<rect x="336.6" y="295.2" width="1.5" height="1.5" fill="#484848"/>
<rect x="348.6" y="292.8" width="1.5" height="1.5" fill="#484848"/>
<rect x="353.8" y="291.4" width="1.5" height="1.5" fill="#484848"/>
<rect x="361.9" y="294.6" width="1.5" height="1.5" fill="#484848"/>
<rect x="323.4" y="294.4" width="1.5" height="1.5" fill="#484848"/>
<rect x="330.4" y="295.2" width="1.5" height="1.5" fill="#484848"/>
<rect x="327.6" y="293.1" width="1.5" height="1.5" fill="#484848"/>
<rect x="323.8" y="299.1" width="1.5" height="1.5" fill="#484848"/>
<rect x="328.1" y="299.9" width="1.5" height="1.5" fill="#484848"/>
<rect x="327.1" y="302.9" width="1.5" height="1.5" fill="#484848"/>
<rect x="326.6" y="303.6" width="1.5" height="1.5" fill="#484848"/>
<rect x="333.9" y="300.9" width="1.5" height="1.5" fill="#484848"/>
<rect x="340.1" y="301.6" width="1.5" height="1.5" fill="#484848"/>
<rect x="343.9" y="301.2" width="1.5" height="1.5" fill="#484848"/>
<rect x="345.6" y="300.9" width="1.5" height="1.5" fill="#484848"/>
<rect x="354.1" y="301.9" width="1.5" height="1.5" fill="#484848"/>
<rect x="357.1" y="299.1" width="1.5" height="1.5" fill="#484848"/>
<rect x="340.4" y="303.6" width="1.5" height="1.5" fill="#484848"/>
<rect x="314.4" y="305.1" width="1.5" height="1.5" fill="#484848"/>
<rect x="321.1" y="301.9" width="1.5" height="1.5" fill="#484848"/>
<rect x="333.4" y="304.1" width="1.5" height="1.5" fill="#484848"/>
<rect x="339.4" y="308.4" width="1.5" height="1.5" fill="#484848"/>
<rect x="333.1" y="307.9" width="1.5" height="1.5" fill="#484848"/>
<rect x="322.1" y="307.4" width="1.5" height="1.5" fill="#484848"/>
<rect x="318.9" y="308.6" width="1.5" height="1.5" fill="#484848"/>
<rect x="320.1" y="309.9" width="1.5" height="1.5" fill="#484848"/>
<rect x="325.2" y="309.9" width="1.5" height="1.5" fill="#484848"/>
<rect x="327.1" y="311.8" width="1.5" height="1.5" fill="#484848"/>
<rect x="328.4" y="313.1" width="1.5" height="1.5" fill="#484848"/>
<rect x="332.2" y="312.4" width="1.5" height="1.5" fill="#484848"/>
<rect x="333.4" y="314.2" width="1.5" height="1.5" fill="#484848"/>
<rect x="329.1" y="314.9" width="1.5" height="1.5" fill="#484848"/>
<rect x="325.2" y="314.2" width="1.5" height="1.5" fill="#484848"/>
<rect x="323.4" y="315.6" width="1.5" height="1.5" fill="#484848"/>
<rect x="317.6" y="312.4" width="1.5" height="1.5" fill="#484848"/>
<rect x="316.4" y="313.6" width="1.5" height="1.5" fill="#484848"/>
<rect x="315.1" y="314.9" width="1.5" height="1.5" fill="#484848"/>
<rect x="313.2" y="316.1" width="1.5" height="1.5" fill="#484848"/>
<rect x="311.9" y="317.4" width="1.5" height="1.5" fill="#484848"/>
<rect x="311.4" y="318.8" width="1.5" height="1.5" fill="#484848"/>
<rect x="310.1" y="319.9" width="1.5" height="1.5" fill="#484848"/>
<rect x="308.8" y="321.2" width="1.5" height="1.5" fill="#484848"/>
<rect x="308.1" y="322.6" width="1.5" height="1.5" fill="#484848"/>
<rect x="307.6" y="323.8" width="1.5" height="1.5" fill="#484848"/>
<rect x="313.9" y="317.4" width="1.5" height="1.5" fill="#484848"/>
<rect x="315.8" y="316.9" width="1.5" height="1.5" fill="#484848"/>
<rect x="318.2" y="315.6" width="1.5" height="1.5" fill="#484848"/>
<rect x="318.9" y="317.4" width="1.5" height="1.5" fill="#484848"/>
<rect x="317.1" y="318.8" width="1.5" height="1.5" fill="#484848"/>
<rect x="321.4" y="312.4" width="1.5" height="1.5" fill="#484848"/>
<rect x="323.9" y="319.9" width="1.5" height="1.5" fill="#484848"/>
<rect x="327.6" y="319.8" width="1.5" height="1.5" fill="#484848"/>
<rect x="385.8" y="212.8" width="1.5" height="1.5" fill="#484848"/>
<rect x="383.2" y="227.1" width="1.5" height="1.5" fill="#484848"/>
<rect x="399.4" y="237.2" width="1.5" height="1.5" fill="#484848"/>
<rect x="390.9" y="240.7" width="1.5" height="1.5" fill="#484848"/>
<rect x="379.4" y="243.2" width="1.5" height="1.5" fill="#484848"/>
<rect x="390.1" y="242.8" width="1.5" height="1.5" fill="#484848"/>
<rect x="387.9" y="244.4" width="1.5" height="1.5" fill="#484848"/>
<rect x="383.8" y="246.3" width="1.5" height="1.5" fill="#484848"/>
<rect x="386.4" y="247.6" width="1.5" height="1.5" fill="#484848"/>
<rect x="387.4" y="248.2" width="1.5" height="1.5" fill="#484848"/>
<rect x="391.4" y="248.6" width="1.5" height="1.5" fill="#484848"/>
<rect x="383.8" y="250.8" width="1.5" height="1.5" fill="#484848"/>
<rect x="387.9" y="251.3" width="1.5" height="1.5" fill="#484848"/>
<rect x="395.1" y="249.8" width="1.5" height="1.5" fill="#484848"/>
<rect x="396.4" y="243.6" width="1.5" height="1.5" fill="#484848"/>
<rect x="375.6" y="252.3" width="1.5" height="1.5" fill="#484848"/>
<rect x="391.8" y="254.6" width="1.5" height="1.5" fill="#484848"/>
<rect x="398.4" y="255.2" width="1.5" height="1.5" fill="#484848"/>
<rect x="346.8" y="251.2" width="1.5" height="1.5" fill="#484848"/>
<rect x="353.4" y="259.6" width="1.5" height="1.5" fill="#484848"/>
<rect x="361.9" y="258.9" width="1.5" height="1.5" fill="#484848"/>
<rect x="381.9" y="261.8" width="1.5" height="1.5" fill="#484848"/>
<rect x="397.1" y="264.1" width="1.5" height="1.5" fill="#484848"/>
<rect x="414.4" y="211.4" width="1.5" height="1.5" fill="#484848"/>
<rect x="422.1" y="214.9" width="1.5" height="1.5" fill="#484848"/>
<rect x="418.2" y="218.8" width="1.5" height="1.5" fill="#484848"/>
<rect x="412.6" y="222.2" width="1.5" height="1.5" fill="#484848"/>
<rect x="433.1" y="214.9" width="1.5" height="1.5" fill="#484848"/>
<rect x="433.8" y="220.3" width="1.5" height="1.5" fill="#484848"/>
<rect x="420.6" y="225.1" width="1.5" height="1.5" fill="#484848"/>
<rect x="425.2" y="225.1" width="1.5" height="1.5" fill="#484848"/>
<rect x="408.8" y="227.1" width="1.5" height="1.5" fill="#484848"/>
<rect x="404.1" y="229.2" width="1.5" height="1.5" fill="#484848"/>
<rect x="403.4" y="230.2" width="1.5" height="1.5" fill="#484848"/>
<rect x="406.6" y="231.3" width="1.5" height="1.5" fill="#484848"/>
<rect x="411.9" y="233.7" width="1.5" height="1.5" fill="#484848"/>
<rect x="427.1" y="237.8" width="1.5" height="1.5" fill="#484848"/>
<rect x="462.6" y="218.8" width="1.5" height="1.5" fill="#484848"/>
<rect x="399.9" y="237.2" width="1.5" height="1.5" fill="#484848"/>
<rect x="307.2" y="324.9" width="1.5" height="1.5" fill="#333"/>
<rect x="319.9" y="310.4" width="1.5" height="1.5" fill="#333"/>
<rect x="310.9" y="320.9" width="1.5" height="1.5" fill="#333"/>
<rect x="308.3" y="323.0" width="1.5" height="1.5" fill="#333"/>
<rect x="313.1" y="318.4" width="1.5" height="1.5" fill="#333"/>
<rect x="308.7" y="324.4" width="1.5" height="1.5" fill="#333"/>
<rect x="328.2" y="313.7" width="1.5" height="1.5" fill="#333"/>
<rect x="319.1" y="308.8" width="1.5" height="1.5" fill="#333"/>
<rect x="325.9" y="312.9" width="1.5" height="1.5" fill="#333"/>
<rect x="325.2" y="310.7" width="1.5" height="1.5" fill="#333"/>
<rect x="320.7" y="313.5" width="1.5" height="1.5" fill="#333"/>
<rect x="311.2" y="323.6" width="1.5" height="1.5" fill="#333"/>
<rect x="326.4" y="311.7" width="1.5" height="1.5" fill="#333"/>
<rect x="308.6" y="325.2" width="1.5" height="1.5" fill="#333"/>
<rect x="327.6" y="310.8" width="1.5" height="1.5" fill="#333"/>
<rect x="316.1" y="320.0" width="1.5" height="1.5" fill="#333"/>
<rect x="315.2" y="320.6" width="1.5" height="1.5" fill="#333"/>
<rect x="312.5" y="318.0" width="1.5" height="1.5" fill="#333"/>
<rect x="314.2" y="314.3" width="1.5" height="1.5" fill="#333"/>
<rect x="321.4" y="317.9" width="1.5" height="1.5" fill="#333"/>
<rect x="312.0" y="321.0" width="1.5" height="1.5" fill="#333"/>
<rect x="322.1" y="311.3" width="1.5" height="1.5" fill="#333"/>
<rect x="314.1" y="319.5" width="1.5" height="1.5" fill="#333"/>
<rect x="320.6" y="311.5" width="1.5" height="1.5" fill="#333"/>
<rect x="318.2" y="318.0" width="1.5" height="1.5" fill="#333"/>
<rect x="308.0" y="325.1" width="1.5" height="1.5" fill="#333"/>
<rect x="322.7" y="310.5" width="1.5" height="1.5" fill="#333"/>
<rect x="314.9" y="319.8" width="1.5" height="1.5" fill="#333"/>
<rect x="322.5" y="315.1" width="1.5" height="1.5" fill="#333"/>
<rect x="308.9" y="322.9" width="1.5" height="1.5" fill="#333"/>
<rect x="317.4" y="309.2" width="1.5" height="1.5" fill="#333"/>
<rect x="323.2" y="310.6" width="1.5" height="1.5" fill="#333"/>
<rect x="315.3" y="318.1" width="1.5" height="1.5" fill="#333"/>
<rect x="313.6" y="321.9" width="1.5" height="1.5" fill="#333"/>
<rect x="318.7" y="312.3" width="1.5" height="1.5" fill="#333"/>
<rect x="310.0" y="323.6" width="1.5" height="1.5" fill="#333"/>
<rect x="323.0" y="313.5" width="1.5" height="1.5" fill="#333"/>
<rect x="321.8" y="311.3" width="1.5" height="1.5" fill="#333"/>
<rect x="311.9" y="322.7" width="1.5" height="1.5" fill="#333"/>
<rect x="323.3" y="315.9" width="1.5" height="1.5" fill="#333"/>
<rect x="318.7" y="305.4" width="1.5" height="1.5" fill="#333"/>
<rect x="309.9" y="321.5" width="1.5" height="1.5" fill="#333"/>
<rect x="310.3" y="322.0" width="1.5" height="1.5" fill="#333"/>
<rect x="320.5" y="312.4" width="1.5" height="1.5" fill="#333"/>
<rect x="310.3" y="321.1" width="1.5" height="1.5" fill="#333"/>
<rect x="320.5" y="317.9" width="1.5" height="1.5" fill="#333"/>
<rect x="330.0" y="313.5" width="1.5" height="1.5" fill="#333"/>
<rect x="309.3" y="323.6" width="1.5" height="1.5" fill="#333"/>
<rect x="310.1" y="321.5" width="1.5" height="1.5" fill="#333"/>
<rect x="313.0" y="319.9" width="1.5" height="1.5" fill="#333"/>
<text x="357.9" y="354.2" font-size="12.5" font-weight="bold" fill="#111" textLength="92.2" lengthAdjust="spacingAndGlyphs">60c AQUA score</text>
<text transform="translate(280.4,312.4) rotate(-90)" font-size="12.5" font-weight="bold" fill="#111" textLength="94.5" lengthAdjust="spacingAndGlyphs">SP1 AQUA score</text>
<text x="483.6" y="317.4" font-size="14.2" text-anchor="end" fill="#111">0.92</text>
<rect x="444.1" y="310.5" width="8.6" height="1.3" fill="#111"/>
<rect x="444.1" y="314.1" width="8.6" height="1.3" fill="#111"/>
<text x="438.1" y="312.0" font-size="8.6" text-anchor="middle" fill="#111">2</text>
<text x="430.0" y="317.4" font-size="14.2" fill="#111">r</text>
<line x1="310.2" y1="384.2" x2="494.6" y2="384.2" stroke="#9a9a9a" stroke-width="1.3"/>
<line x1="494.6" y1="384.2" x2="494.6" y2="507.0" stroke="#9a9a9a" stroke-width="1.3"/>
<line x1="310.2" y1="507.0" x2="494.6" y2="507.0" stroke="#999" stroke-width="1.4"/>
<line x1="310.2" y1="384.2" x2="310.2" y2="507.0" stroke="#959595" stroke-width="1.3"/>
<line x1="307.7" y1="507.0" x2="310.2" y2="507.0" stroke="#777" stroke-width="1"/>
<text x="305.2" y="510.6" font-size="9.8" text-anchor="end" fill="#222" textLength="4.9" lengthAdjust="spacingAndGlyphs">0</text>
<line x1="307.7" y1="476.3" x2="310.2" y2="476.3" stroke="#777" stroke-width="1"/>
<text x="305.2" y="479.9" font-size="9.8" text-anchor="end" fill="#222" textLength="19.6" lengthAdjust="spacingAndGlyphs">1000</text>
<line x1="307.7" y1="445.6" x2="310.2" y2="445.6" stroke="#777" stroke-width="1"/>
<text x="305.2" y="449.2" font-size="9.8" text-anchor="end" fill="#222" textLength="19.6" lengthAdjust="spacingAndGlyphs">2000</text>
<line x1="307.7" y1="414.9" x2="310.2" y2="414.9" stroke="#777" stroke-width="1"/>
<text x="305.2" y="418.5" font-size="9.8" text-anchor="end" fill="#222" textLength="19.6" lengthAdjust="spacingAndGlyphs">3000</text>
<line x1="307.7" y1="384.2" x2="310.2" y2="384.2" stroke="#777" stroke-width="1"/>
<text x="305.2" y="387.8" font-size="9.8" text-anchor="end" fill="#222" textLength="19.6" lengthAdjust="spacingAndGlyphs">4000</text>
<line x1="308.2" y1="491.65" x2="310.2" y2="491.65" stroke="#999" stroke-width="0.8"/>
<line x1="308.2" y1="460.95" x2="310.2" y2="460.95" stroke="#999" stroke-width="0.8"/>
<line x1="308.2" y1="430.25" x2="310.2" y2="430.25" stroke="#999" stroke-width="0.8"/>
<line x1="308.2" y1="399.55" x2="310.2" y2="399.55" stroke="#999" stroke-width="0.8"/>
<line x1="310.2" y1="507.0" x2="310.2" y2="509.2" stroke="#888" stroke-width="0.9"/>
<text x="311.0" y="519.5" font-size="9.8" text-anchor="middle" fill="#222" textLength="4.9" lengthAdjust="spacingAndGlyphs">0</text>
<line x1="387.03333333333336" y1="507.0" x2="387.03333333333336" y2="509.2" stroke="#888" stroke-width="0.9"/>
<text x="386.0" y="519.5" font-size="9.8" text-anchor="middle" fill="#222" textLength="14.7" lengthAdjust="spacingAndGlyphs">500</text>
<line x1="463.8666666666667" y1="507.0" x2="463.8666666666667" y2="509.2" stroke="#888" stroke-width="0.9"/>
<text x="462.9" y="519.5" font-size="9.8" text-anchor="middle" fill="#222" textLength="19.6" lengthAdjust="spacingAndGlyphs">1000</text>
<line x1="329.4083333333333" y1="507.0" x2="329.4083333333333" y2="508.8" stroke="#999" stroke-width="0.8"/>
<line x1="348.6166666666667" y1="507.0" x2="348.6166666666667" y2="508.8" stroke="#999" stroke-width="0.8"/>
<line x1="367.825" y1="507.0" x2="367.825" y2="508.8" stroke="#999" stroke-width="0.8"/>
<line x1="406.2416666666667" y1="507.0" x2="406.2416666666667" y2="508.8" stroke="#999" stroke-width="0.8"/>
<line x1="425.45000000000005" y1="507.0" x2="425.45000000000005" y2="508.8" stroke="#999" stroke-width="0.8"/>
<line x1="444.65833333333336" y1="507.0" x2="444.65833333333336" y2="508.8" stroke="#999" stroke-width="0.8"/>
<line x1="483.07500000000005" y1="507.0" x2="483.07500000000005" y2="508.8" stroke="#999" stroke-width="0.8"/>
<line x1="310.2" y1="507.0" x2="494.6" y2="386.5" stroke="#3c3c3c" stroke-width="0.95"/>
<rect x="355.4" y="448.6" width="1.5" height="1.5" fill="#484848"/>
<rect x="364.4" y="447.1" width="1.5" height="1.5" fill="#484848"/>
<rect x="390.1" y="447.1" width="1.5" height="1.5" fill="#484848"/>
<rect x="397.6" y="445.2" width="1.5" height="1.5" fill="#484848"/>
<rect x="399.4" y="448.1" width="1.5" height="1.5" fill="#484848"/>
<rect x="401.1" y="447.1" width="1.5" height="1.5" fill="#484848"/>
<rect x="393.9" y="452.9" width="1.5" height="1.5" fill="#484848"/>
<rect x="345.9" y="454.1" width="1.5" height="1.5" fill="#484848"/>
<rect x="386.2" y="453.8" width="1.5" height="1.5" fill="#484848"/>
<rect x="398.9" y="454.4" width="1.5" height="1.5" fill="#484848"/>
<rect x="388.8" y="456.9" width="1.5" height="1.5" fill="#484848"/>
<rect x="364.4" y="458.9" width="1.5" height="1.5" fill="#484848"/>
<rect x="376.1" y="459.4" width="1.5" height="1.5" fill="#484848"/>
<rect x="386.6" y="459.4" width="1.5" height="1.5" fill="#484848"/>
<rect x="398.1" y="460.1" width="1.5" height="1.5" fill="#484848"/>
<rect x="342.9" y="460.4" width="1.5" height="1.5" fill="#484848"/>
<rect x="336.4" y="464.2" width="1.5" height="1.5" fill="#484848"/>
<rect x="340.9" y="464.2" width="1.5" height="1.5" fill="#484848"/>
<rect x="343.4" y="464.6" width="1.5" height="1.5" fill="#484848"/>
<rect x="352.9" y="463.2" width="1.5" height="1.5" fill="#484848"/>
<rect x="349.1" y="464.8" width="1.5" height="1.5" fill="#484848"/>
<rect x="361.9" y="463.9" width="1.5" height="1.5" fill="#484848"/>
<rect x="375.8" y="463.2" width="1.5" height="1.5" fill="#484848"/>
<rect x="385.2" y="463.2" width="1.5" height="1.5" fill="#484848"/>
<rect x="401.1" y="463.2" width="1.5" height="1.5" fill="#484848"/>
<rect x="350.1" y="467.6" width="1.5" height="1.5" fill="#484848"/>
<rect x="352.9" y="469.6" width="1.5" height="1.5" fill="#484848"/>
<rect x="362.1" y="469.6" width="1.5" height="1.5" fill="#484848"/>
<rect x="384.6" y="468.9" width="1.5" height="1.5" fill="#484848"/>
<rect x="399.1" y="471.4" width="1.5" height="1.5" fill="#484848"/>
<rect x="370.6" y="471.4" width="1.5" height="1.5" fill="#484848"/>
<rect x="368.8" y="474.6" width="1.5" height="1.5" fill="#484848"/>
<rect x="380.4" y="473.1" width="1.5" height="1.5" fill="#484848"/>
<rect x="386.2" y="476.9" width="1.5" height="1.5" fill="#484848"/>
<rect x="344.8" y="474.1" width="1.5" height="1.5" fill="#484848"/>
<rect x="332.6" y="476.6" width="1.5" height="1.5" fill="#484848"/>
<rect x="347.9" y="478.1" width="1.5" height="1.5" fill="#484848"/>
<rect x="354.2" y="478.4" width="1.5" height="1.5" fill="#484848"/>
<rect x="356.1" y="476.6" width="1.5" height="1.5" fill="#484848"/>
<rect x="359.2" y="474.1" width="1.5" height="1.5" fill="#484848"/>
<rect x="330.1" y="481.2" width="1.5" height="1.5" fill="#484848"/>
<rect x="332.1" y="481.2" width="1.5" height="1.5" fill="#484848"/>
<rect x="337.8" y="481.9" width="1.5" height="1.5" fill="#484848"/>
<rect x="339.1" y="482.9" width="1.5" height="1.5" fill="#484848"/>
<rect x="341.9" y="483.6" width="1.5" height="1.5" fill="#484848"/>
<rect x="356.8" y="481.9" width="1.5" height="1.5" fill="#484848"/>
<rect x="354.9" y="483.2" width="1.5" height="1.5" fill="#484848"/>
<rect x="362.1" y="481.9" width="1.5" height="1.5" fill="#484848"/>
<rect x="350.1" y="484.6" width="1.5" height="1.5" fill="#484848"/>
<rect x="348.8" y="486.1" width="1.5" height="1.5" fill="#484848"/>
<rect x="324.4" y="482.9" width="1.5" height="1.5" fill="#484848"/>
<rect x="343.4" y="487.1" width="1.5" height="1.5" fill="#484848"/>
<rect x="345.4" y="487.1" width="1.5" height="1.5" fill="#484848"/>
<rect x="374.1" y="488.9" width="1.5" height="1.5" fill="#484848"/>
<rect x="325.4" y="488.9" width="1.5" height="1.5" fill="#484848"/>
<rect x="335.9" y="488.6" width="1.5" height="1.5" fill="#484848"/>
<rect x="338.1" y="489.9" width="1.5" height="1.5" fill="#484848"/>
<rect x="341.6" y="490.9" width="1.5" height="1.5" fill="#484848"/>
<rect x="345.4" y="493.1" width="1.5" height="1.5" fill="#484848"/>
<rect x="323.1" y="490.4" width="1.5" height="1.5" fill="#484848"/>
<rect x="326.9" y="491.1" width="1.5" height="1.5" fill="#484848"/>
<rect x="330.1" y="490.4" width="1.5" height="1.5" fill="#484848"/>
<rect x="331.4" y="492.4" width="1.5" height="1.5" fill="#484848"/>
<rect x="325.8" y="493.6" width="1.5" height="1.5" fill="#484848"/>
<rect x="328.2" y="494.2" width="1.5" height="1.5" fill="#484848"/>
<rect x="332.6" y="493.6" width="1.5" height="1.5" fill="#484848"/>
<rect x="334.6" y="496.9" width="1.5" height="1.5" fill="#484848"/>
<rect x="332.1" y="498.1" width="1.5" height="1.5" fill="#484848"/>
<rect x="329.6" y="497.4" width="1.5" height="1.5" fill="#484848"/>
<rect x="328.2" y="498.8" width="1.5" height="1.5" fill="#484848"/>
<rect x="322.9" y="498.1" width="1.5" height="1.5" fill="#484848"/>
<rect x="322.6" y="499.4" width="1.5" height="1.5" fill="#484848"/>
<rect x="320.6" y="497.4" width="1.5" height="1.5" fill="#484848"/>
<rect x="320.6" y="499.9" width="1.5" height="1.5" fill="#484848"/>
<rect x="318.8" y="496.1" width="1.5" height="1.5" fill="#484848"/>
<rect x="316.9" y="494.9" width="1.5" height="1.5" fill="#484848"/>
<rect x="316.9" y="498.8" width="1.5" height="1.5" fill="#484848"/>
<rect x="315.6" y="500.6" width="1.5" height="1.5" fill="#484848"/>
<rect x="314.4" y="499.9" width="1.5" height="1.5" fill="#484848"/>
<rect x="313.1" y="501.9" width="1.5" height="1.5" fill="#484848"/>
<rect x="311.8" y="503.1" width="1.5" height="1.5" fill="#484848"/>
<rect x="310.6" y="503.8" width="1.5" height="1.5" fill="#484848"/>
<rect x="320.6" y="502.6" width="1.5" height="1.5" fill="#484848"/>
<rect x="329.6" y="501.2" width="1.5" height="1.5" fill="#484848"/>
<rect x="325.8" y="499.9" width="1.5" height="1.5" fill="#484848"/>
<rect x="324.4" y="496.1" width="1.5" height="1.5" fill="#484848"/>
<rect x="388.8" y="422.8" width="1.5" height="1.5" fill="#484848"/>
<rect x="388.1" y="424.8" width="1.5" height="1.5" fill="#484848"/>
<rect x="385.9" y="434.1" width="1.5" height="1.5" fill="#484848"/>
<rect x="382.1" y="437.1" width="1.5" height="1.5" fill="#484848"/>
<rect x="390.1" y="436.4" width="1.5" height="1.5" fill="#484848"/>
<rect x="392.9" y="434.6" width="1.5" height="1.5" fill="#484848"/>
<rect x="393.4" y="435.9" width="1.5" height="1.5" fill="#484848"/>
<rect x="390.4" y="440.2" width="1.5" height="1.5" fill="#484848"/>
<rect x="403.6" y="442.8" width="1.5" height="1.5" fill="#484848"/>
<rect x="397.9" y="445.4" width="1.5" height="1.5" fill="#484848"/>
<rect x="416.9" y="397.9" width="1.5" height="1.5" fill="#484848"/>
<rect x="405.4" y="424.8" width="1.5" height="1.5" fill="#484848"/>
<rect x="422.6" y="423.6" width="1.5" height="1.5" fill="#484848"/>
<rect x="429.6" y="422.2" width="1.5" height="1.5" fill="#484848"/>
<rect x="435.9" y="424.1" width="1.5" height="1.5" fill="#484848"/>
<rect x="409.4" y="429.1" width="1.5" height="1.5" fill="#484848"/>
<rect x="415.1" y="429.1" width="1.5" height="1.5" fill="#484848"/>
<rect x="406.6" y="435.4" width="1.5" height="1.5" fill="#484848"/>
<rect x="411.2" y="438.8" width="1.5" height="1.5" fill="#484848"/>
<rect x="421.1" y="438.8" width="1.5" height="1.5" fill="#484848"/>
<rect x="427.8" y="437.8" width="1.5" height="1.5" fill="#484848"/>
<rect x="424.6" y="441.6" width="1.5" height="1.5" fill="#484848"/>
<rect x="403.6" y="442.8" width="1.5" height="1.5" fill="#484848"/>
<rect x="464.9" y="434.6" width="1.5" height="1.5" fill="#484848"/>
<rect x="414.4" y="451.6" width="1.5" height="1.5" fill="#484848"/>
<rect x="404.9" y="458.9" width="1.5" height="1.5" fill="#484848"/>
<rect x="401.1" y="463.2" width="1.5" height="1.5" fill="#484848"/>
<rect x="399.9" y="454.1" width="1.5" height="1.5" fill="#484848"/>
<rect x="399.9" y="471.4" width="1.5" height="1.5" fill="#484848"/>
<rect x="328.7" y="495.1" width="1.5" height="1.5" fill="#333"/>
<rect x="313.3" y="505.0" width="1.5" height="1.5" fill="#333"/>
<rect x="327.1" y="500.1" width="1.5" height="1.5" fill="#333"/>
<rect x="332.1" y="494.4" width="1.5" height="1.5" fill="#333"/>
<rect x="310.4" y="505.9" width="1.5" height="1.5" fill="#333"/>
<rect x="314.7" y="499.7" width="1.5" height="1.5" fill="#333"/>
<rect x="330.6" y="491.1" width="1.5" height="1.5" fill="#333"/>
<rect x="313.6" y="505.3" width="1.5" height="1.5" fill="#333"/>
<rect x="326.9" y="499.9" width="1.5" height="1.5" fill="#333"/>
<rect x="313.7" y="504.6" width="1.5" height="1.5" fill="#333"/>
<rect x="321.4" y="502.0" width="1.5" height="1.5" fill="#333"/>
<rect x="314.8" y="502.1" width="1.5" height="1.5" fill="#333"/>
<rect x="328.2" y="493.9" width="1.5" height="1.5" fill="#333"/>
<rect x="326.6" y="495.7" width="1.5" height="1.5" fill="#333"/>
<rect x="318.5" y="498.6" width="1.5" height="1.5" fill="#333"/>
<rect x="313.9" y="503.0" width="1.5" height="1.5" fill="#333"/>
<rect x="314.1" y="503.5" width="1.5" height="1.5" fill="#333"/>
<rect x="326.7" y="498.7" width="1.5" height="1.5" fill="#333"/>
<rect x="320.5" y="500.5" width="1.5" height="1.5" fill="#333"/>
<rect x="325.5" y="492.0" width="1.5" height="1.5" fill="#333"/>
<rect x="321.2" y="500.8" width="1.5" height="1.5" fill="#333"/>
<rect x="314.4" y="504.7" width="1.5" height="1.5" fill="#333"/>
<rect x="326.7" y="500.0" width="1.5" height="1.5" fill="#333"/>
<rect x="311.9" y="501.3" width="1.5" height="1.5" fill="#333"/>
<rect x="321.6" y="499.2" width="1.5" height="1.5" fill="#333"/>
<rect x="324.6" y="488.5" width="1.5" height="1.5" fill="#333"/>
<rect x="316.7" y="503.2" width="1.5" height="1.5" fill="#333"/>
<rect x="321.3" y="500.1" width="1.5" height="1.5" fill="#333"/>
<rect x="318.6" y="497.1" width="1.5" height="1.5" fill="#333"/>
<rect x="330.1" y="494.3" width="1.5" height="1.5" fill="#333"/>
<rect x="326.8" y="497.3" width="1.5" height="1.5" fill="#333"/>
<rect x="332.0" y="496.4" width="1.5" height="1.5" fill="#333"/>
<rect x="330.6" y="490.8" width="1.5" height="1.5" fill="#333"/>
<rect x="329.4" y="496.7" width="1.5" height="1.5" fill="#333"/>
<rect x="326.1" y="496.9" width="1.5" height="1.5" fill="#333"/>
<rect x="311.5" y="504.0" width="1.5" height="1.5" fill="#333"/>
<rect x="316.0" y="501.4" width="1.5" height="1.5" fill="#333"/>
<rect x="317.3" y="497.6" width="1.5" height="1.5" fill="#333"/>
<rect x="317.8" y="500.9" width="1.5" height="1.5" fill="#333"/>
<rect x="317.3" y="501.2" width="1.5" height="1.5" fill="#333"/>
<rect x="320.3" y="494.8" width="1.5" height="1.5" fill="#333"/>
<rect x="311.5" y="505.9" width="1.5" height="1.5" fill="#333"/>
<rect x="310.7" y="503.2" width="1.5" height="1.5" fill="#333"/>
<rect x="309.8" y="503.4" width="1.5" height="1.5" fill="#333"/>
<rect x="331.3" y="493.3" width="1.5" height="1.5" fill="#333"/>
<rect x="333.5" y="495.4" width="1.5" height="1.5" fill="#333"/>
<rect x="333.7" y="500.0" width="1.5" height="1.5" fill="#333"/>
<rect x="325.8" y="497.7" width="1.5" height="1.5" fill="#333"/>
<rect x="319.0" y="495.2" width="1.5" height="1.5" fill="#333"/>
<rect x="319.1" y="499.4" width="1.5" height="1.5" fill="#333"/>
<text x="358.9" y="534.7" font-size="12.5" font-weight="bold" fill="#111" textLength="91.8" lengthAdjust="spacingAndGlyphs">60c AQUA score</text>
<text transform="translate(280.5,492.4) rotate(-90)" font-size="12.5" font-weight="bold" fill="#111" textLength="92.0" lengthAdjust="spacingAndGlyphs">F10 AQUA score</text>
<text x="488.2" y="499.2" font-size="14.2" text-anchor="end" fill="#111">0.89</text>
<rect x="448.7" y="492.3" width="8.6" height="1.3" fill="#111"/>
<rect x="448.7" y="495.9" width="8.6" height="1.3" fill="#111"/>
<text x="442.7" y="493.8" font-size="8.6" text-anchor="middle" fill="#111">2</text>
<text x="434.6" y="499.2" font-size="14.2" fill="#111">r</text>
<line x1="551.0" y1="20.3" x2="735.3" y2="20.3" stroke="#9a9a9a" stroke-width="1.3"/>
<line x1="735.3" y1="20.3" x2="735.3" y2="142.6" stroke="#9a9a9a" stroke-width="1.3"/>
<line x1="551.0" y1="142.6" x2="735.3" y2="142.6" stroke="#999" stroke-width="1.4"/>
<line x1="551.0" y1="20.3" x2="551.0" y2="142.6" stroke="#959595" stroke-width="1.3"/>
<line x1="548.5" y1="142.6" x2="551.0" y2="142.6" stroke="#777" stroke-width="1"/>
<text x="546.0" y="146.2" font-size="9.8" text-anchor="end" fill="#222" textLength="4.9" lengthAdjust="spacingAndGlyphs">0</text>
<line x1="548.5" y1="91.64166666666665" x2="551.0" y2="91.64166666666665" stroke="#777" stroke-width="1"/>
<text x="546.0" y="95.2" font-size="9.8" text-anchor="end" fill="#222" textLength="14.7" lengthAdjust="spacingAndGlyphs">500</text>
<line x1="548.5" y1="40.68333333333332" x2="551.0" y2="40.68333333333332" stroke="#777" stroke-width="1"/>
<text x="546.0" y="44.3" font-size="9.8" text-anchor="end" fill="#222" textLength="19.6" lengthAdjust="spacingAndGlyphs">1000</text>
<line x1="549.0" y1="117.12083333333332" x2="551.0" y2="117.12083333333332" stroke="#999" stroke-width="0.8"/>
<line x1="549.0" y1="66.1625" x2="551.0" y2="66.1625" stroke="#999" stroke-width="0.8"/>
<line x1="551.0" y1="142.6" x2="551.0" y2="144.79999999999998" stroke="#888" stroke-width="0.9"/>
<text x="551.8" y="155.1" font-size="9.8" text-anchor="middle" fill="#222" textLength="4.9" lengthAdjust="spacingAndGlyphs">0</text>
<line x1="581.7166666666667" y1="142.6" x2="581.7166666666667" y2="144.79999999999998" stroke="#888" stroke-width="0.9"/>
<text x="580.7" y="155.1" font-size="9.8" text-anchor="middle" fill="#222" textLength="14.7" lengthAdjust="spacingAndGlyphs">500</text>
<line x1="612.4333333333333" y1="142.6" x2="612.4333333333333" y2="144.79999999999998" stroke="#888" stroke-width="0.9"/>
<text x="611.4" y="155.1" font-size="9.8" text-anchor="middle" fill="#222" textLength="19.6" lengthAdjust="spacingAndGlyphs">1000</text>
<line x1="643.15" y1="142.6" x2="643.15" y2="144.79999999999998" stroke="#888" stroke-width="0.9"/>
<text x="642.1" y="155.1" font-size="9.8" text-anchor="middle" fill="#222" textLength="19.6" lengthAdjust="spacingAndGlyphs">1500</text>
<line x1="673.8666666666667" y1="142.6" x2="673.8666666666667" y2="144.79999999999998" stroke="#888" stroke-width="0.9"/>
<text x="672.9" y="155.1" font-size="9.8" text-anchor="middle" fill="#222" textLength="19.6" lengthAdjust="spacingAndGlyphs">2000</text>
<line x1="704.5833333333333" y1="142.6" x2="704.5833333333333" y2="144.79999999999998" stroke="#888" stroke-width="0.9"/>
<text x="703.6" y="155.1" font-size="9.8" text-anchor="middle" fill="#222" textLength="19.6" lengthAdjust="spacingAndGlyphs">2500</text>
<line x1="735.3" y1="142.6" x2="735.3" y2="144.79999999999998" stroke="#888" stroke-width="0.9"/>
<text x="734.3" y="155.1" font-size="9.8" text-anchor="middle" fill="#222" textLength="19.6" lengthAdjust="spacingAndGlyphs">3000</text>
<line x1="566.3583333333333" y1="142.6" x2="566.3583333333333" y2="144.4" stroke="#999" stroke-width="0.8"/>
<line x1="597.075" y1="142.6" x2="597.075" y2="144.4" stroke="#999" stroke-width="0.8"/>
<line x1="627.7916666666666" y1="142.6" x2="627.7916666666666" y2="144.4" stroke="#999" stroke-width="0.8"/>
<line x1="658.5083333333333" y1="142.6" x2="658.5083333333333" y2="144.4" stroke="#999" stroke-width="0.8"/>
<line x1="689.2249999999999" y1="142.6" x2="689.2249999999999" y2="144.4" stroke="#999" stroke-width="0.8"/>
<line x1="719.9416666666666" y1="142.6" x2="719.9416666666666" y2="144.4" stroke="#999" stroke-width="0.8"/>
<line x1="551.0" y1="142.6" x2="730.4" y2="20.3" stroke="#3c3c3c" stroke-width="0.95"/>
<rect x="606.0" y="80.8" width="1.5" height="1.5" fill="#484848"/>
<rect x="616.1" y="81.2" width="1.5" height="1.5" fill="#484848"/>
<rect x="627.8" y="81.2" width="1.5" height="1.5" fill="#484848"/>
<rect x="629.8" y="79.8" width="1.5" height="1.5" fill="#484848"/>
<rect x="637.4" y="82.0" width="1.5" height="1.5" fill="#484848"/>
<rect x="609.8" y="85.5" width="1.5" height="1.5" fill="#484848"/>
<rect x="623.8" y="85.0" width="1.5" height="1.5" fill="#484848"/>
<rect x="616.4" y="88.3" width="1.5" height="1.5" fill="#484848"/>
<rect x="615.9" y="89.3" width="1.5" height="1.5" fill="#484848"/>
<rect x="624.4" y="89.3" width="1.5" height="1.5" fill="#484848"/>
<rect x="628.5" y="87.8" width="1.5" height="1.5" fill="#484848"/>
<rect x="632.4" y="87.2" width="1.5" height="1.5" fill="#484848"/>
<rect x="635.4" y="89.3" width="1.5" height="1.5" fill="#484848"/>
<rect x="604.0" y="91.0" width="1.5" height="1.5" fill="#484848"/>
<rect x="606.0" y="93.5" width="1.5" height="1.5" fill="#484848"/>
<rect x="619.6" y="92.5" width="1.5" height="1.5" fill="#484848"/>
<rect x="613.0" y="95.5" width="1.5" height="1.5" fill="#484848"/>
<rect x="599.4" y="97.2" width="1.5" height="1.5" fill="#484848"/>
<rect x="618.0" y="98.0" width="1.5" height="1.5" fill="#484848"/>
<rect x="604.0" y="101.0" width="1.5" height="1.5" fill="#484848"/>
<rect x="585.8" y="104.3" width="1.5" height="1.5" fill="#484848"/>
<rect x="594.0" y="106.2" width="1.5" height="1.5" fill="#484848"/>
<rect x="591.8" y="109.3" width="1.5" height="1.5" fill="#484848"/>
<rect x="596.5" y="109.3" width="1.5" height="1.5" fill="#484848"/>
<rect x="605.0" y="106.5" width="1.5" height="1.5" fill="#484848"/>
<rect x="606.6" y="108.2" width="1.5" height="1.5" fill="#484848"/>
<rect x="602.1" y="111.0" width="1.5" height="1.5" fill="#484848"/>
<rect x="610.5" y="111.5" width="1.5" height="1.5" fill="#484848"/>
<rect x="619.2" y="108.7" width="1.5" height="1.5" fill="#484848"/>
<rect x="621.1" y="112.0" width="1.5" height="1.5" fill="#484848"/>
<rect x="588.0" y="113.2" width="1.5" height="1.5" fill="#484848"/>
<rect x="590.8" y="115.0" width="1.5" height="1.5" fill="#484848"/>
<rect x="576.5" y="115.3" width="1.5" height="1.5" fill="#484848"/>
<rect x="601.5" y="114.0" width="1.5" height="1.5" fill="#484848"/>
<rect x="597.8" y="116.2" width="1.5" height="1.5" fill="#484848"/>
<rect x="615.5" y="116.2" width="1.5" height="1.5" fill="#484848"/>
<rect x="624.4" y="115.0" width="1.5" height="1.5" fill="#484848"/>
<rect x="578.4" y="118.5" width="1.5" height="1.5" fill="#484848"/>
<rect x="578.8" y="119.5" width="1.5" height="1.5" fill="#484848"/>
<rect x="591.8" y="118.2" width="1.5" height="1.5" fill="#484848"/>
<rect x="595.2" y="120.8" width="1.5" height="1.5" fill="#484848"/>
<rect x="599.0" y="122.3" width="1.5" height="1.5" fill="#484848"/>
<rect x="613.0" y="120.0" width="1.5" height="1.5" fill="#484848"/>
<rect x="566.0" y="119.2" width="1.5" height="1.5" fill="#484848"/>
<rect x="556.0" y="126.2" width="1.5" height="1.5" fill="#484848"/>
<rect x="570.8" y="123.8" width="1.5" height="1.5" fill="#484848"/>
<rect x="573.0" y="126.3" width="1.5" height="1.5" fill="#484848"/>
<rect x="577.5" y="124.2" width="1.5" height="1.5" fill="#484848"/>
<rect x="579.4" y="127.2" width="1.5" height="1.5" fill="#484848"/>
<rect x="581.2" y="126.3" width="1.5" height="1.5" fill="#484848"/>
<rect x="583.0" y="128.9" width="1.5" height="1.5" fill="#484848"/>
<rect x="590.1" y="126.2" width="1.5" height="1.5" fill="#484848"/>
<rect x="573.6" y="129.2" width="1.5" height="1.5" fill="#484848"/>
<rect x="572.8" y="130.9" width="1.5" height="1.5" fill="#484848"/>
<rect x="575.0" y="133.1" width="1.5" height="1.5" fill="#484848"/>
<rect x="566.8" y="128.1" width="1.5" height="1.5" fill="#484848"/>
<rect x="564.0" y="127.3" width="1.5" height="1.5" fill="#484848"/>
<rect x="563.0" y="129.9" width="1.5" height="1.5" fill="#484848"/>
<rect x="564.1" y="131.8" width="1.5" height="1.5" fill="#484848"/>
<rect x="565.5" y="133.1" width="1.5" height="1.5" fill="#484848"/>
<rect x="568.0" y="133.8" width="1.5" height="1.5" fill="#484848"/>
<rect x="569.2" y="134.9" width="1.5" height="1.5" fill="#484848"/>
<rect x="562.2" y="134.3" width="1.5" height="1.5" fill="#484848"/>
<rect x="560.4" y="135.7" width="1.5" height="1.5" fill="#484848"/>
<rect x="557.9" y="136.8" width="1.5" height="1.5" fill="#484848"/>
<rect x="556.5" y="137.6" width="1.5" height="1.5" fill="#484848"/>
<rect x="554.0" y="138.8" width="1.5" height="1.5" fill="#484848"/>
<rect x="552.8" y="139.4" width="1.5" height="1.5" fill="#484848"/>
<rect x="551.5" y="140.7" width="1.5" height="1.5" fill="#484848"/>
<rect x="559.1" y="138.8" width="1.5" height="1.5" fill="#484848"/>
<rect x="561.6" y="137.6" width="1.5" height="1.5" fill="#484848"/>
<rect x="627.5" y="63.8" width="1.5" height="1.5" fill="#484848"/>
<rect x="643.4" y="62.4" width="1.5" height="1.5" fill="#484848"/>
<rect x="643.4" y="66.8" width="1.5" height="1.5" fill="#484848"/>
<rect x="632.0" y="70.5" width="1.5" height="1.5" fill="#484848"/>
<rect x="640.5" y="73.0" width="1.5" height="1.5" fill="#484848"/>
<rect x="638.6" y="77.5" width="1.5" height="1.5" fill="#484848"/>
<rect x="644.0" y="76.8" width="1.5" height="1.5" fill="#484848"/>
<rect x="614.9" y="78.2" width="1.5" height="1.5" fill="#484848"/>
<rect x="606.0" y="80.7" width="1.5" height="1.5" fill="#484848"/>
<rect x="628.8" y="80.0" width="1.5" height="1.5" fill="#484848"/>
<rect x="717.1" y="37.2" width="1.5" height="1.5" fill="#484848"/>
<rect x="667.4" y="56.2" width="1.5" height="1.5" fill="#484848"/>
<rect x="670.0" y="57.0" width="1.5" height="1.5" fill="#484848"/>
<rect x="661.0" y="60.8" width="1.5" height="1.5" fill="#484848"/>
<rect x="643.6" y="62.0" width="1.5" height="1.5" fill="#484848"/>
<rect x="648.1" y="65.2" width="1.5" height="1.5" fill="#484848"/>
<rect x="643.0" y="66.3" width="1.5" height="1.5" fill="#484848"/>
<rect x="652.5" y="70.0" width="1.5" height="1.5" fill="#484848"/>
<rect x="654.1" y="71.2" width="1.5" height="1.5" fill="#484848"/>
<rect x="640.5" y="72.8" width="1.5" height="1.5" fill="#484848"/>
<rect x="648.1" y="75.0" width="1.5" height="1.5" fill="#484848"/>
<rect x="644.4" y="76.8" width="1.5" height="1.5" fill="#484848"/>
<rect x="643.6" y="77.8" width="1.5" height="1.5" fill="#484848"/>
<rect x="647.5" y="86.8" width="1.5" height="1.5" fill="#484848"/>
<rect x="658.0" y="90.0" width="1.5" height="1.5" fill="#484848"/>
<rect x="556.9" y="137.8" width="1.5" height="1.5" fill="#333"/>
<rect x="560.3" y="133.2" width="1.5" height="1.5" fill="#333"/>
<rect x="569.4" y="131.1" width="1.5" height="1.5" fill="#333"/>
<rect x="564.4" y="132.7" width="1.5" height="1.5" fill="#333"/>
<rect x="562.0" y="133.7" width="1.5" height="1.5" fill="#333"/>
<rect x="553.7" y="138.9" width="1.5" height="1.5" fill="#333"/>
<rect x="550.6" y="140.8" width="1.5" height="1.5" fill="#333"/>
<rect x="563.1" y="133.0" width="1.5" height="1.5" fill="#333"/>
<rect x="555.8" y="136.8" width="1.5" height="1.5" fill="#333"/>
<rect x="571.2" y="128.8" width="1.5" height="1.5" fill="#333"/>
<rect x="556.7" y="134.1" width="1.5" height="1.5" fill="#333"/>
<rect x="572.9" y="131.8" width="1.5" height="1.5" fill="#333"/>
<rect x="554.0" y="136.5" width="1.5" height="1.5" fill="#333"/>
<rect x="560.1" y="136.1" width="1.5" height="1.5" fill="#333"/>
<rect x="566.6" y="131.8" width="1.5" height="1.5" fill="#333"/>
<rect x="558.5" y="136.3" width="1.5" height="1.5" fill="#333"/>
<rect x="551.2" y="140.4" width="1.5" height="1.5" fill="#333"/>
<rect x="558.1" y="137.2" width="1.5" height="1.5" fill="#333"/>
<rect x="554.3" y="139.1" width="1.5" height="1.5" fill="#333"/>
<rect x="564.6" y="133.5" width="1.5" height="1.5" fill="#333"/>
<rect x="564.5" y="132.6" width="1.5" height="1.5" fill="#333"/>
<rect x="560.2" y="130.8" width="1.5" height="1.5" fill="#333"/>
<rect x="551.2" y="140.5" width="1.5" height="1.5" fill="#333"/>
<rect x="558.9" y="134.9" width="1.5" height="1.5" fill="#333"/>
<rect x="570.1" y="125.9" width="1.5" height="1.5" fill="#333"/>
<rect x="563.8" y="129.4" width="1.5" height="1.5" fill="#333"/>
<rect x="570.6" y="126.6" width="1.5" height="1.5" fill="#333"/>
<rect x="553.6" y="139.5" width="1.5" height="1.5" fill="#333"/>
<rect x="568.3" y="132.2" width="1.5" height="1.5" fill="#333"/>
<rect x="568.3" y="125.9" width="1.5" height="1.5" fill="#333"/>
<rect x="571.6" y="128.6" width="1.5" height="1.5" fill="#333"/>
<rect x="554.3" y="138.0" width="1.5" height="1.5" fill="#333"/>
<rect x="561.6" y="132.9" width="1.5" height="1.5" fill="#333"/>
<rect x="551.7" y="141.4" width="1.5" height="1.5" fill="#333"/>
<rect x="565.3" y="130.4" width="1.5" height="1.5" fill="#333"/>
<rect x="566.7" y="130.2" width="1.5" height="1.5" fill="#333"/>
<rect x="562.9" y="136.3" width="1.5" height="1.5" fill="#333"/>
<rect x="551.5" y="141.5" width="1.5" height="1.5" fill="#333"/>
<rect x="559.3" y="135.3" width="1.5" height="1.5" fill="#333"/>
<rect x="560.4" y="132.5" width="1.5" height="1.5" fill="#333"/>
<rect x="550.8" y="140.7" width="1.5" height="1.5" fill="#333"/>
<rect x="553.2" y="141.5" width="1.5" height="1.5" fill="#333"/>
<rect x="564.0" y="133.1" width="1.5" height="1.5" fill="#333"/>
<rect x="573.3" y="132.0" width="1.5" height="1.5" fill="#333"/>
<rect x="551.4" y="141.5" width="1.5" height="1.5" fill="#333"/>
<rect x="554.3" y="139.4" width="1.5" height="1.5" fill="#333"/>
<rect x="556.0" y="138.0" width="1.5" height="1.5" fill="#333"/>
<rect x="573.0" y="135.3" width="1.5" height="1.5" fill="#333"/>
<rect x="558.8" y="134.8" width="1.5" height="1.5" fill="#333"/>
<rect x="562.5" y="131.5" width="1.5" height="1.5" fill="#333"/>
<text x="603.6" y="174.0" font-size="12.5" font-weight="bold" fill="#111" textLength="93.3" lengthAdjust="spacingAndGlyphs">1D5 AQUA score</text>
<text transform="translate(525.3,139.1) rotate(-90)" font-size="12.5" font-weight="bold" fill="#111" textLength="92.3" lengthAdjust="spacingAndGlyphs">60c AQUA score</text>
<text x="728.4" y="135.7" font-size="14.2" text-anchor="end" fill="#111">0.93</text>
<rect x="688.9" y="128.8" width="8.6" height="1.3" fill="#111"/>
<rect x="688.9" y="132.4" width="8.6" height="1.3" fill="#111"/>
<text x="682.9" y="130.3" font-size="8.6" text-anchor="middle" fill="#111">2</text>
<text x="674.8" y="135.7" font-size="14.2" fill="#111">r</text>
<line x1="551.2" y1="203.6" x2="735.5" y2="203.6" stroke="#9a9a9a" stroke-width="1.3"/>
<line x1="735.5" y1="203.6" x2="735.5" y2="326.2" stroke="#9a9a9a" stroke-width="1.3"/>
<line x1="551.2" y1="326.2" x2="735.5" y2="326.2" stroke="#999" stroke-width="1.4"/>
<line x1="551.2" y1="203.6" x2="551.2" y2="326.2" stroke="#959595" stroke-width="1.3"/>
<line x1="548.7" y1="326.2" x2="551.2" y2="326.2" stroke="#777" stroke-width="1"/>
<text x="546.2" y="329.8" font-size="9.8" text-anchor="end" fill="#222" textLength="4.9" lengthAdjust="spacingAndGlyphs">0</text>
<line x1="548.7" y1="264.9" x2="551.2" y2="264.9" stroke="#777" stroke-width="1"/>
<text x="546.2" y="268.5" font-size="9.8" text-anchor="end" fill="#222" textLength="19.6" lengthAdjust="spacingAndGlyphs">1000</text>
<line x1="548.7" y1="203.6" x2="551.2" y2="203.6" stroke="#777" stroke-width="1"/>
<text x="546.2" y="207.2" font-size="9.8" text-anchor="end" fill="#222" textLength="19.6" lengthAdjust="spacingAndGlyphs">2000</text>
<line x1="549.2" y1="295.55" x2="551.2" y2="295.55" stroke="#999" stroke-width="0.8"/>
<line x1="549.2" y1="234.25" x2="551.2" y2="234.25" stroke="#999" stroke-width="0.8"/>
<line x1="551.2" y1="326.2" x2="551.2" y2="328.4" stroke="#888" stroke-width="0.9"/>
<text x="552.0" y="338.7" font-size="9.8" text-anchor="middle" fill="#222" textLength="4.9" lengthAdjust="spacingAndGlyphs">0</text>
<line x1="581.9166666666667" y1="326.2" x2="581.9166666666667" y2="328.4" stroke="#888" stroke-width="0.9"/>
<text x="580.9" y="338.7" font-size="9.8" text-anchor="middle" fill="#222" textLength="14.7" lengthAdjust="spacingAndGlyphs">500</text>
<line x1="612.6333333333333" y1="326.2" x2="612.6333333333333" y2="328.4" stroke="#888" stroke-width="0.9"/>
<text x="611.6" y="338.7" font-size="9.8" text-anchor="middle" fill="#222" textLength="19.6" lengthAdjust="spacingAndGlyphs">1000</text>
<line x1="643.35" y1="326.2" x2="643.35" y2="328.4" stroke="#888" stroke-width="0.9"/>
<text x="642.4" y="338.7" font-size="9.8" text-anchor="middle" fill="#222" textLength="19.6" lengthAdjust="spacingAndGlyphs">1500</text>
<line x1="674.0666666666667" y1="326.2" x2="674.0666666666667" y2="328.4" stroke="#888" stroke-width="0.9"/>
<text x="673.1" y="338.7" font-size="9.8" text-anchor="middle" fill="#222" textLength="19.6" lengthAdjust="spacingAndGlyphs">2000</text>
<line x1="704.7833333333333" y1="326.2" x2="704.7833333333333" y2="328.4" stroke="#888" stroke-width="0.9"/>
<text x="703.8" y="338.7" font-size="9.8" text-anchor="middle" fill="#222" textLength="19.6" lengthAdjust="spacingAndGlyphs">2500</text>
<line x1="735.5" y1="326.2" x2="735.5" y2="328.4" stroke="#888" stroke-width="0.9"/>
<text x="734.5" y="338.7" font-size="9.8" text-anchor="middle" fill="#222" textLength="19.6" lengthAdjust="spacingAndGlyphs">3000</text>
<line x1="566.5583333333334" y1="326.2" x2="566.5583333333334" y2="328.0" stroke="#999" stroke-width="0.8"/>
<line x1="597.2750000000001" y1="326.2" x2="597.2750000000001" y2="328.0" stroke="#999" stroke-width="0.8"/>
<line x1="627.9916666666667" y1="326.2" x2="627.9916666666667" y2="328.0" stroke="#999" stroke-width="0.8"/>
<line x1="658.7083333333334" y1="326.2" x2="658.7083333333334" y2="328.0" stroke="#999" stroke-width="0.8"/>
<line x1="689.425" y1="326.2" x2="689.425" y2="328.0" stroke="#999" stroke-width="0.8"/>
<line x1="720.1416666666667" y1="326.2" x2="720.1416666666667" y2="328.0" stroke="#999" stroke-width="0.8"/>
<line x1="551.2" y1="326.2" x2="683.0" y2="203.6" stroke="#3c3c3c" stroke-width="0.95"/>
<rect x="594.0" y="264.8" width="1.5" height="1.5" fill="#484848"/>
<rect x="601.1" y="264.8" width="1.5" height="1.5" fill="#484848"/>
<rect x="606.6" y="263.9" width="1.5" height="1.5" fill="#484848"/>
<rect x="610.8" y="264.8" width="1.5" height="1.5" fill="#484848"/>
<rect x="615.1" y="263.9" width="1.5" height="1.5" fill="#484848"/>
<rect x="616.1" y="270.2" width="1.5" height="1.5" fill="#484848"/>
<rect x="607.0" y="267.4" width="1.5" height="1.5" fill="#484848"/>
<rect x="623.8" y="268.1" width="1.5" height="1.5" fill="#484848"/>
<rect x="624.8" y="273.6" width="1.5" height="1.5" fill="#484848"/>
<rect x="602.5" y="273.4" width="1.5" height="1.5" fill="#484848"/>
<rect x="613.4" y="272.8" width="1.5" height="1.5" fill="#484848"/>
<rect x="600.0" y="277.4" width="1.5" height="1.5" fill="#484848"/>
<rect x="602.1" y="281.2" width="1.5" height="1.5" fill="#484848"/>
<rect x="616.4" y="283.8" width="1.5" height="1.5" fill="#484848"/>
<rect x="604.0" y="286.4" width="1.5" height="1.5" fill="#484848"/>
<rect x="604.8" y="289.2" width="1.5" height="1.5" fill="#484848"/>
<rect x="615.1" y="289.6" width="1.5" height="1.5" fill="#484848"/>
<rect x="619.0" y="287.6" width="1.5" height="1.5" fill="#484848"/>
<rect x="591.5" y="289.9" width="1.5" height="1.5" fill="#484848"/>
<rect x="590.8" y="293.6" width="1.5" height="1.5" fill="#484848"/>
<rect x="588.2" y="292.4" width="1.5" height="1.5" fill="#484848"/>
<rect x="580.6" y="293.1" width="1.5" height="1.5" fill="#484848"/>
<rect x="580.0" y="294.2" width="1.5" height="1.5" fill="#484848"/>
<rect x="595.9" y="293.6" width="1.5" height="1.5" fill="#484848"/>
<rect x="606.6" y="298.4" width="1.5" height="1.5" fill="#484848"/>
<rect x="597.1" y="300.9" width="1.5" height="1.5" fill="#484848"/>
<rect x="593.0" y="303.1" width="1.5" height="1.5" fill="#484848"/>
<rect x="572.8" y="298.8" width="1.5" height="1.5" fill="#484848"/>
<rect x="576.9" y="300.6" width="1.5" height="1.5" fill="#484848"/>
<rect x="577.9" y="301.9" width="1.5" height="1.5" fill="#484848"/>
<rect x="579.4" y="302.6" width="1.5" height="1.5" fill="#484848"/>
<rect x="566.5" y="300.9" width="1.5" height="1.5" fill="#484848"/>
<rect x="566.5" y="304.4" width="1.5" height="1.5" fill="#484848"/>
<rect x="571.1" y="302.8" width="1.5" height="1.5" fill="#484848"/>
<rect x="574.4" y="304.8" width="1.5" height="1.5" fill="#484848"/>
<rect x="578.1" y="307.6" width="1.5" height="1.5" fill="#484848"/>
<rect x="579.4" y="308.9" width="1.5" height="1.5" fill="#484848"/>
<rect x="583.0" y="311.4" width="1.5" height="1.5" fill="#484848"/>
<rect x="573.0" y="307.6" width="1.5" height="1.5" fill="#484848"/>
<rect x="569.2" y="308.9" width="1.5" height="1.5" fill="#484848"/>
<rect x="565.5" y="308.2" width="1.5" height="1.5" fill="#484848"/>
<rect x="568.0" y="310.8" width="1.5" height="1.5" fill="#484848"/>
<rect x="572.5" y="310.8" width="1.5" height="1.5" fill="#484848"/>
<rect x="563.0" y="310.8" width="1.5" height="1.5" fill="#484848"/>
<rect x="557.9" y="313.9" width="1.5" height="1.5" fill="#484848"/>
<rect x="556.5" y="314.6" width="1.5" height="1.5" fill="#484848"/>
<rect x="560.4" y="315.1" width="1.5" height="1.5" fill="#484848"/>
<rect x="563.0" y="315.1" width="1.5" height="1.5" fill="#484848"/>
<rect x="565.5" y="312.6" width="1.5" height="1.5" fill="#484848"/>
<rect x="570.5" y="313.9" width="1.5" height="1.5" fill="#484848"/>
<rect x="571.1" y="315.1" width="1.5" height="1.5" fill="#484848"/>
<rect x="579.4" y="314.1" width="1.5" height="1.5" fill="#484848"/>
<rect x="575.5" y="316.4" width="1.5" height="1.5" fill="#484848"/>
<rect x="569.0" y="317.9" width="1.5" height="1.5" fill="#484848"/>
<rect x="564.1" y="318.4" width="1.5" height="1.5" fill="#484848"/>
<rect x="561.6" y="318.9" width="1.5" height="1.5" fill="#484848"/>
<rect x="559.1" y="317.8" width="1.5" height="1.5" fill="#484848"/>
<rect x="557.9" y="319.6" width="1.5" height="1.5" fill="#484848"/>
<rect x="556.0" y="320.2" width="1.5" height="1.5" fill="#484848"/>
<rect x="554.6" y="321.6" width="1.5" height="1.5" fill="#484848"/>
<rect x="553.5" y="322.8" width="1.5" height="1.5" fill="#484848"/>
<rect x="552.1" y="323.8" width="1.5" height="1.5" fill="#484848"/>
<rect x="551.2" y="324.6" width="1.5" height="1.5" fill="#484848"/>
<rect x="563.0" y="320.9" width="1.5" height="1.5" fill="#484848"/>
<rect x="560.4" y="321.6" width="1.5" height="1.5" fill="#484848"/>
<rect x="558.5" y="322.1" width="1.5" height="1.5" fill="#484848"/>
<rect x="627.8" y="214.2" width="1.5" height="1.5" fill="#484848"/>
<rect x="632.4" y="214.2" width="1.5" height="1.5" fill="#484848"/>
<rect x="643.4" y="218.1" width="1.5" height="1.5" fill="#484848"/>
<rect x="632.4" y="221.8" width="1.5" height="1.5" fill="#484848"/>
<rect x="644.0" y="224.4" width="1.5" height="1.5" fill="#484848"/>
<rect x="640.9" y="226.3" width="1.5" height="1.5" fill="#484848"/>
<rect x="644.2" y="228.2" width="1.5" height="1.5" fill="#484848"/>
<rect x="639.0" y="229.4" width="1.5" height="1.5" fill="#484848"/>
<rect x="621.5" y="235.2" width="1.5" height="1.5" fill="#484848"/>
<rect x="624.0" y="239.7" width="1.5" height="1.5" fill="#484848"/>
<rect x="610.0" y="242.2" width="1.5" height="1.5" fill="#484848"/>
<rect x="620.1" y="242.2" width="1.5" height="1.5" fill="#484848"/>
<rect x="627.8" y="243.1" width="1.5" height="1.5" fill="#484848"/>
<rect x="615.9" y="245.3" width="1.5" height="1.5" fill="#484848"/>
<rect x="617.1" y="246.6" width="1.5" height="1.5" fill="#484848"/>
<rect x="621.5" y="246.6" width="1.5" height="1.5" fill="#484848"/>
<rect x="633.2" y="247.2" width="1.5" height="1.5" fill="#484848"/>
<rect x="628.5" y="248.4" width="1.5" height="1.5" fill="#484848"/>
<rect x="637.4" y="249.3" width="1.5" height="1.5" fill="#484848"/>
<rect x="613.4" y="251.9" width="1.5" height="1.5" fill="#484848"/>
<rect x="629.5" y="254.2" width="1.5" height="1.5" fill="#484848"/>
<rect x="626.9" y="261.1" width="1.5" height="1.5" fill="#484848"/>
<rect x="653.0" y="211.2" width="1.5" height="1.5" fill="#484848"/>
<rect x="643.4" y="218.1" width="1.5" height="1.5" fill="#484848"/>
<rect x="670.0" y="214.2" width="1.5" height="1.5" fill="#484848"/>
<rect x="667.8" y="219.9" width="1.5" height="1.5" fill="#484848"/>
<rect x="717.5" y="218.1" width="1.5" height="1.5" fill="#484848"/>
<rect x="644.0" y="224.4" width="1.5" height="1.5" fill="#484848"/>
<rect x="648.4" y="224.4" width="1.5" height="1.5" fill="#484848"/>
<rect x="640.8" y="226.3" width="1.5" height="1.5" fill="#484848"/>
<rect x="644.4" y="228.2" width="1.5" height="1.5" fill="#484848"/>
<rect x="648.4" y="230.8" width="1.5" height="1.5" fill="#484848"/>
<rect x="658.0" y="226.3" width="1.5" height="1.5" fill="#484848"/>
<rect x="654.1" y="233.2" width="1.5" height="1.5" fill="#484848"/>
<rect x="661.5" y="237.1" width="1.5" height="1.5" fill="#484848"/>
<rect x="647.9" y="243.4" width="1.5" height="1.5" fill="#484848"/>
<rect x="564.1" y="306.2" width="1.5" height="1.5" fill="#333"/>
<rect x="560.5" y="322.2" width="1.5" height="1.5" fill="#333"/>
<rect x="562.7" y="315.0" width="1.5" height="1.5" fill="#333"/>
<rect x="556.5" y="318.6" width="1.5" height="1.5" fill="#333"/>
<rect x="552.0" y="324.7" width="1.5" height="1.5" fill="#333"/>
<rect x="559.1" y="316.5" width="1.5" height="1.5" fill="#333"/>
<rect x="559.5" y="318.0" width="1.5" height="1.5" fill="#333"/>
<rect x="555.4" y="319.5" width="1.5" height="1.5" fill="#333"/>
<rect x="554.9" y="323.2" width="1.5" height="1.5" fill="#333"/>
<rect x="550.8" y="323.3" width="1.5" height="1.5" fill="#333"/>
<rect x="552.8" y="318.8" width="1.5" height="1.5" fill="#333"/>
<rect x="551.9" y="322.4" width="1.5" height="1.5" fill="#333"/>
<rect x="564.5" y="312.8" width="1.5" height="1.5" fill="#333"/>
<rect x="567.2" y="306.7" width="1.5" height="1.5" fill="#333"/>
<rect x="552.7" y="324.4" width="1.5" height="1.5" fill="#333"/>
<rect x="558.6" y="317.7" width="1.5" height="1.5" fill="#333"/>
<rect x="575.0" y="315.1" width="1.5" height="1.5" fill="#333"/>
<rect x="552.0" y="322.9" width="1.5" height="1.5" fill="#333"/>
<rect x="556.1" y="318.5" width="1.5" height="1.5" fill="#333"/>
<rect x="555.0" y="323.1" width="1.5" height="1.5" fill="#333"/>
<rect x="557.8" y="316.1" width="1.5" height="1.5" fill="#333"/>
<rect x="556.3" y="320.6" width="1.5" height="1.5" fill="#333"/>
<rect x="565.6" y="313.2" width="1.5" height="1.5" fill="#333"/>
<rect x="559.0" y="316.4" width="1.5" height="1.5" fill="#333"/>
<rect x="561.4" y="310.5" width="1.5" height="1.5" fill="#333"/>
<rect x="558.9" y="315.0" width="1.5" height="1.5" fill="#333"/>
<rect x="560.4" y="318.9" width="1.5" height="1.5" fill="#333"/>
<rect x="566.8" y="313.4" width="1.5" height="1.5" fill="#333"/>
<rect x="550.8" y="323.8" width="1.5" height="1.5" fill="#333"/>
<rect x="574.5" y="315.1" width="1.5" height="1.5" fill="#333"/>
<rect x="556.4" y="320.8" width="1.5" height="1.5" fill="#333"/>
<rect x="561.3" y="320.4" width="1.5" height="1.5" fill="#333"/>
<rect x="553.5" y="323.2" width="1.5" height="1.5" fill="#333"/>
<rect x="564.5" y="317.5" width="1.5" height="1.5" fill="#333"/>
<rect x="568.1" y="310.4" width="1.5" height="1.5" fill="#333"/>
<rect x="562.5" y="312.9" width="1.5" height="1.5" fill="#333"/>
<rect x="559.6" y="310.7" width="1.5" height="1.5" fill="#333"/>
<rect x="557.6" y="319.8" width="1.5" height="1.5" fill="#333"/>
<rect x="553.1" y="322.0" width="1.5" height="1.5" fill="#333"/>
<rect x="564.9" y="313.8" width="1.5" height="1.5" fill="#333"/>
<rect x="554.9" y="323.5" width="1.5" height="1.5" fill="#333"/>
<rect x="554.8" y="322.3" width="1.5" height="1.5" fill="#333"/>
<rect x="555.1" y="321.9" width="1.5" height="1.5" fill="#333"/>
<rect x="559.0" y="320.0" width="1.5" height="1.5" fill="#333"/>
<rect x="563.8" y="310.9" width="1.5" height="1.5" fill="#333"/>
<rect x="561.0" y="320.0" width="1.5" height="1.5" fill="#333"/>
<rect x="554.0" y="322.2" width="1.5" height="1.5" fill="#333"/>
<rect x="555.8" y="320.7" width="1.5" height="1.5" fill="#333"/>
<rect x="562.9" y="313.7" width="1.5" height="1.5" fill="#333"/>
<rect x="567.3" y="306.3" width="1.5" height="1.5" fill="#333"/>
<text x="602.8" y="354.5" font-size="12.5" font-weight="bold" fill="#111" textLength="93.6" lengthAdjust="spacingAndGlyphs">1D5 AQUA score</text>
<text transform="translate(523.9,313.6) rotate(-90)" font-size="12.5" font-weight="bold" fill="#111" textLength="94.0" lengthAdjust="spacingAndGlyphs">SP1 AQUA score</text>
<text x="728.9" y="319.2" font-size="14.2" text-anchor="end" fill="#111">0.92</text>
<rect x="689.4" y="312.3" width="8.6" height="1.3" fill="#111"/>
<rect x="689.4" y="315.9" width="8.6" height="1.3" fill="#111"/>
<text x="683.4" y="313.8" font-size="8.6" text-anchor="middle" fill="#111">2</text>
<text x="675.3" y="319.2" font-size="14.2" fill="#111">r</text>
<line x1="555.4" y1="383.0" x2="739.4" y2="383.0" stroke="#9a9a9a" stroke-width="1.3"/>
<line x1="739.4" y1="383.0" x2="739.4" y2="506.5" stroke="#9a9a9a" stroke-width="1.3"/>
<line x1="555.4" y1="506.5" x2="739.4" y2="506.5" stroke="#999" stroke-width="1.4"/>
<line x1="555.4" y1="383.0" x2="555.4" y2="506.5" stroke="#959595" stroke-width="1.3"/>
<line x1="552.9" y1="506.5" x2="555.4" y2="506.5" stroke="#777" stroke-width="1"/>
<text x="550.4" y="510.1" font-size="9.8" text-anchor="end" fill="#222" textLength="4.9" lengthAdjust="spacingAndGlyphs">0</text>
<line x1="552.9" y1="475.625" x2="555.4" y2="475.625" stroke="#777" stroke-width="1"/>
<text x="550.4" y="479.2" font-size="9.8" text-anchor="end" fill="#222" textLength="19.6" lengthAdjust="spacingAndGlyphs">1000</text>
<line x1="552.9" y1="444.75" x2="555.4" y2="444.75" stroke="#777" stroke-width="1"/>
<text x="550.4" y="448.4" font-size="9.8" text-anchor="end" fill="#222" textLength="19.6" lengthAdjust="spacingAndGlyphs">2000</text>
<line x1="552.9" y1="413.875" x2="555.4" y2="413.875" stroke="#777" stroke-width="1"/>
<text x="550.4" y="417.5" font-size="9.8" text-anchor="end" fill="#222" textLength="19.6" lengthAdjust="spacingAndGlyphs">3000</text>
<line x1="552.9" y1="383.0" x2="555.4" y2="383.0" stroke="#777" stroke-width="1"/>
<text x="550.4" y="386.6" font-size="9.8" text-anchor="end" fill="#222" textLength="19.6" lengthAdjust="spacingAndGlyphs">4000</text>
<line x1="553.4" y1="491.0625" x2="555.4" y2="491.0625" stroke="#999" stroke-width="0.8"/>
<line x1="553.4" y1="460.1875" x2="555.4" y2="460.1875" stroke="#999" stroke-width="0.8"/>
<line x1="553.4" y1="429.3125" x2="555.4" y2="429.3125" stroke="#999" stroke-width="0.8"/>
<line x1="553.4" y1="398.4375" x2="555.4" y2="398.4375" stroke="#999" stroke-width="0.8"/>
<line x1="555.4" y1="506.5" x2="555.4" y2="508.7" stroke="#888" stroke-width="0.9"/>
<text x="556.2" y="519.0" font-size="9.8" text-anchor="middle" fill="#222" textLength="4.9" lengthAdjust="spacingAndGlyphs">0</text>
<line x1="586.0666666666666" y1="506.5" x2="586.0666666666666" y2="508.7" stroke="#888" stroke-width="0.9"/>
<text x="585.1" y="519.0" font-size="9.8" text-anchor="middle" fill="#222" textLength="14.7" lengthAdjust="spacingAndGlyphs">500</text>
<line x1="616.7333333333333" y1="506.5" x2="616.7333333333333" y2="508.7" stroke="#888" stroke-width="0.9"/>
<text x="615.7" y="519.0" font-size="9.8" text-anchor="middle" fill="#222" textLength="19.6" lengthAdjust="spacingAndGlyphs">1000</text>
<line x1="647.4" y1="506.5" x2="647.4" y2="508.7" stroke="#888" stroke-width="0.9"/>
<text x="646.4" y="519.0" font-size="9.8" text-anchor="middle" fill="#222" textLength="19.6" lengthAdjust="spacingAndGlyphs">1500</text>
<line x1="678.0666666666666" y1="506.5" x2="678.0666666666666" y2="508.7" stroke="#888" stroke-width="0.9"/>
<text x="677.1" y="519.0" font-size="9.8" text-anchor="middle" fill="#222" textLength="19.6" lengthAdjust="spacingAndGlyphs">2000</text>
<line x1="708.7333333333333" y1="506.5" x2="708.7333333333333" y2="508.7" stroke="#888" stroke-width="0.9"/>
<text x="707.7" y="519.0" font-size="9.8" text-anchor="middle" fill="#222" textLength="19.6" lengthAdjust="spacingAndGlyphs">2500</text>
<line x1="739.4" y1="506.5" x2="739.4" y2="508.7" stroke="#888" stroke-width="0.9"/>
<text x="738.4" y="519.0" font-size="9.8" text-anchor="middle" fill="#222" textLength="19.6" lengthAdjust="spacingAndGlyphs">3000</text>
<line x1="570.7333333333333" y1="506.5" x2="570.7333333333333" y2="508.3" stroke="#999" stroke-width="0.8"/>
<line x1="601.4" y1="506.5" x2="601.4" y2="508.3" stroke="#999" stroke-width="0.8"/>
<line x1="632.0666666666666" y1="506.5" x2="632.0666666666666" y2="508.3" stroke="#999" stroke-width="0.8"/>
<line x1="662.7333333333333" y1="506.5" x2="662.7333333333333" y2="508.3" stroke="#999" stroke-width="0.8"/>
<line x1="693.4" y1="506.5" x2="693.4" y2="508.3" stroke="#999" stroke-width="0.8"/>
<line x1="724.0666666666666" y1="506.5" x2="724.0666666666666" y2="508.3" stroke="#999" stroke-width="0.8"/>
<line x1="555.4" y1="506.5" x2="734.9" y2="383.0" stroke="#3c3c3c" stroke-width="0.95"/>
<rect x="610.2" y="447.6" width="1.5" height="1.5" fill="#484848"/>
<rect x="625.9" y="444.2" width="1.5" height="1.5" fill="#484848"/>
<rect x="636.9" y="444.8" width="1.5" height="1.5" fill="#484848"/>
<rect x="637.5" y="446.1" width="1.5" height="1.5" fill="#484848"/>
<rect x="641.6" y="444.6" width="1.5" height="1.5" fill="#484848"/>
<rect x="619.9" y="453.4" width="1.5" height="1.5" fill="#484848"/>
<rect x="621.1" y="455.9" width="1.5" height="1.5" fill="#484848"/>
<rect x="590.0" y="457.9" width="1.5" height="1.5" fill="#484848"/>
<rect x="617.4" y="459.8" width="1.5" height="1.5" fill="#484848"/>
<rect x="626.1" y="458.1" width="1.5" height="1.5" fill="#484848"/>
<rect x="628.4" y="458.8" width="1.5" height="1.5" fill="#484848"/>
<rect x="648.0" y="457.9" width="1.5" height="1.5" fill="#484848"/>
<rect x="631.8" y="453.4" width="1.5" height="1.5" fill="#484848"/>
<rect x="634.0" y="462.2" width="1.5" height="1.5" fill="#484848"/>
<rect x="595.5" y="463.6" width="1.5" height="1.5" fill="#484848"/>
<rect x="598.4" y="462.9" width="1.5" height="1.5" fill="#484848"/>
<rect x="604.2" y="462.2" width="1.5" height="1.5" fill="#484848"/>
<rect x="608.5" y="462.2" width="1.5" height="1.5" fill="#484848"/>
<rect x="605.1" y="466.1" width="1.5" height="1.5" fill="#484848"/>
<rect x="606.5" y="467.9" width="1.5" height="1.5" fill="#484848"/>
<rect x="620.8" y="470.4" width="1.5" height="1.5" fill="#484848"/>
<rect x="625.9" y="468.6" width="1.5" height="1.5" fill="#484848"/>
<rect x="631.5" y="467.9" width="1.5" height="1.5" fill="#484848"/>
<rect x="610.0" y="472.6" width="1.5" height="1.5" fill="#484848"/>
<rect x="611.2" y="473.4" width="1.5" height="1.5" fill="#484848"/>
<rect x="608.5" y="473.6" width="1.5" height="1.5" fill="#484848"/>
<rect x="614.8" y="473.9" width="1.5" height="1.5" fill="#484848"/>
<rect x="640.1" y="475.9" width="1.5" height="1.5" fill="#484848"/>
<rect x="614.8" y="477.4" width="1.5" height="1.5" fill="#484848"/>
<rect x="595.5" y="473.4" width="1.5" height="1.5" fill="#484848"/>
<rect x="596.0" y="475.6" width="1.5" height="1.5" fill="#484848"/>
<rect x="592.2" y="478.1" width="1.5" height="1.5" fill="#484848"/>
<rect x="581.1" y="477.1" width="1.5" height="1.5" fill="#484848"/>
<rect x="577.6" y="480.2" width="1.5" height="1.5" fill="#484848"/>
<rect x="583.1" y="480.2" width="1.5" height="1.5" fill="#484848"/>
<rect x="583.1" y="482.2" width="1.5" height="1.5" fill="#484848"/>
<rect x="572.0" y="481.9" width="1.5" height="1.5" fill="#484848"/>
<rect x="575.5" y="481.9" width="1.5" height="1.5" fill="#484848"/>
<rect x="596.6" y="481.2" width="1.5" height="1.5" fill="#484848"/>
<rect x="594.8" y="483.6" width="1.5" height="1.5" fill="#484848"/>
<rect x="606.5" y="482.2" width="1.5" height="1.5" fill="#484848"/>
<rect x="624.0" y="480.9" width="1.5" height="1.5" fill="#484848"/>
<rect x="619.5" y="486.1" width="1.5" height="1.5" fill="#484848"/>
<rect x="622.6" y="487.9" width="1.5" height="1.5" fill="#484848"/>
<rect x="603.4" y="487.9" width="1.5" height="1.5" fill="#484848"/>
<rect x="602.1" y="492.4" width="1.5" height="1.5" fill="#484848"/>
<rect x="588.5" y="486.1" width="1.5" height="1.5" fill="#484848"/>
<rect x="582.8" y="487.6" width="1.5" height="1.5" fill="#484848"/>
<rect x="560.5" y="488.2" width="1.5" height="1.5" fill="#484848"/>
<rect x="568.1" y="488.2" width="1.5" height="1.5" fill="#484848"/>
<rect x="573.9" y="488.2" width="1.5" height="1.5" fill="#484848"/>
<rect x="570.8" y="490.1" width="1.5" height="1.5" fill="#484848"/>
<rect x="577.0" y="492.1" width="1.5" height="1.5" fill="#484848"/>
<rect x="579.0" y="493.6" width="1.5" height="1.5" fill="#484848"/>
<rect x="583.4" y="490.1" width="1.5" height="1.5" fill="#484848"/>
<rect x="584.6" y="492.6" width="1.5" height="1.5" fill="#484848"/>
<rect x="587.1" y="494.6" width="1.5" height="1.5" fill="#484848"/>
<rect x="583.4" y="496.4" width="1.5" height="1.5" fill="#484848"/>
<rect x="587.0" y="497.8" width="1.5" height="1.5" fill="#484848"/>
<rect x="575.1" y="495.9" width="1.5" height="1.5" fill="#484848"/>
<rect x="577.0" y="498.9" width="1.5" height="1.5" fill="#484848"/>
<rect x="572.0" y="498.9" width="1.5" height="1.5" fill="#484848"/>
<rect x="573.2" y="501.6" width="1.5" height="1.5" fill="#484848"/>
<rect x="569.5" y="495.1" width="1.5" height="1.5" fill="#484848"/>
<rect x="567.0" y="493.9" width="1.5" height="1.5" fill="#484848"/>
<rect x="567.0" y="497.8" width="1.5" height="1.5" fill="#484848"/>
<rect x="564.4" y="498.9" width="1.5" height="1.5" fill="#484848"/>
<rect x="561.9" y="500.2" width="1.5" height="1.5" fill="#484848"/>
<rect x="560.5" y="501.6" width="1.5" height="1.5" fill="#484848"/>
<rect x="559.4" y="502.1" width="1.5" height="1.5" fill="#484848"/>
<rect x="558.0" y="502.8" width="1.5" height="1.5" fill="#484848"/>
<rect x="556.8" y="503.8" width="1.5" height="1.5" fill="#484848"/>
<rect x="555.5" y="504.6" width="1.5" height="1.5" fill="#484848"/>
<rect x="568.1" y="500.9" width="1.5" height="1.5" fill="#484848"/>
<rect x="567.0" y="502.1" width="1.5" height="1.5" fill="#484848"/>
<rect x="563.8" y="501.6" width="1.5" height="1.5" fill="#484848"/>
<rect x="570.8" y="493.2" width="1.5" height="1.5" fill="#484848"/>
<rect x="569.5" y="496.4" width="1.5" height="1.5" fill="#484848"/>
<rect x="632.8" y="421.8" width="1.5" height="1.5" fill="#484848"/>
<rect x="643.1" y="423.8" width="1.5" height="1.5" fill="#484848"/>
<rect x="636.5" y="428.1" width="1.5" height="1.5" fill="#484848"/>
<rect x="614.0" y="433.6" width="1.5" height="1.5" fill="#484848"/>
<rect x="628.4" y="434.4" width="1.5" height="1.5" fill="#484848"/>
<rect x="624.5" y="436.1" width="1.5" height="1.5" fill="#484848"/>
<rect x="636.5" y="435.1" width="1.5" height="1.5" fill="#484848"/>
<rect x="644.9" y="437.9" width="1.5" height="1.5" fill="#484848"/>
<rect x="647.4" y="437.4" width="1.5" height="1.5" fill="#484848"/>
<rect x="648.6" y="434.9" width="1.5" height="1.5" fill="#484848"/>
<rect x="631.8" y="440.6" width="1.5" height="1.5" fill="#484848"/>
<rect x="619.1" y="441.8" width="1.5" height="1.5" fill="#484848"/>
<rect x="657.0" y="396.9" width="1.5" height="1.5" fill="#484848"/>
<rect x="652.9" y="422.6" width="1.5" height="1.5" fill="#484848"/>
<rect x="665.5" y="421.2" width="1.5" height="1.5" fill="#484848"/>
<rect x="671.5" y="423.8" width="1.5" height="1.5" fill="#484848"/>
<rect x="675.0" y="423.1" width="1.5" height="1.5" fill="#484848"/>
<rect x="652.9" y="428.1" width="1.5" height="1.5" fill="#484848"/>
<rect x="662.0" y="433.1" width="1.5" height="1.5" fill="#484848"/>
<rect x="649.0" y="434.9" width="1.5" height="1.5" fill="#484848"/>
<rect x="647.8" y="436.9" width="1.5" height="1.5" fill="#484848"/>
<rect x="644.9" y="437.8" width="1.5" height="1.5" fill="#484848"/>
<rect x="651.9" y="439.6" width="1.5" height="1.5" fill="#484848"/>
<rect x="721.8" y="433.6" width="1.5" height="1.5" fill="#484848"/>
<rect x="658.5" y="450.9" width="1.5" height="1.5" fill="#484848"/>
<rect x="648.0" y="457.9" width="1.5" height="1.5" fill="#484848"/>
<rect x="571.1" y="495.0" width="1.5" height="1.5" fill="#333"/>
<rect x="570.1" y="496.2" width="1.5" height="1.5" fill="#333"/>
<rect x="573.1" y="496.6" width="1.5" height="1.5" fill="#333"/>
<rect x="560.7" y="503.0" width="1.5" height="1.5" fill="#333"/>
<rect x="557.0" y="503.3" width="1.5" height="1.5" fill="#333"/>
<rect x="559.0" y="504.8" width="1.5" height="1.5" fill="#333"/>
<rect x="573.8" y="496.9" width="1.5" height="1.5" fill="#333"/>
<rect x="559.8" y="501.0" width="1.5" height="1.5" fill="#333"/>
<rect x="565.1" y="500.3" width="1.5" height="1.5" fill="#333"/>
<rect x="556.4" y="505.4" width="1.5" height="1.5" fill="#333"/>
<rect x="564.7" y="498.6" width="1.5" height="1.5" fill="#333"/>
<rect x="559.4" y="503.2" width="1.5" height="1.5" fill="#333"/>
<rect x="574.5" y="487.5" width="1.5" height="1.5" fill="#333"/>
<rect x="575.8" y="490.2" width="1.5" height="1.5" fill="#333"/>
<rect x="567.7" y="493.7" width="1.5" height="1.5" fill="#333"/>
<rect x="558.8" y="502.9" width="1.5" height="1.5" fill="#333"/>
<rect x="563.0" y="500.4" width="1.5" height="1.5" fill="#333"/>
<rect x="575.4" y="490.9" width="1.5" height="1.5" fill="#333"/>
<rect x="579.7" y="497.8" width="1.5" height="1.5" fill="#333"/>
<rect x="571.5" y="496.0" width="1.5" height="1.5" fill="#333"/>
<rect x="559.0" y="503.8" width="1.5" height="1.5" fill="#333"/>
<rect x="565.7" y="493.9" width="1.5" height="1.5" fill="#333"/>
<rect x="570.1" y="492.3" width="1.5" height="1.5" fill="#333"/>
<rect x="571.0" y="496.8" width="1.5" height="1.5" fill="#333"/>
<rect x="560.0" y="501.4" width="1.5" height="1.5" fill="#333"/>
<rect x="561.9" y="505.4" width="1.5" height="1.5" fill="#333"/>
<rect x="569.4" y="495.3" width="1.5" height="1.5" fill="#333"/>
<rect x="566.0" y="499.4" width="1.5" height="1.5" fill="#333"/>
<rect x="556.7" y="505.4" width="1.5" height="1.5" fill="#333"/>
<rect x="563.6" y="501.7" width="1.5" height="1.5" fill="#333"/>
<rect x="573.3" y="496.1" width="1.5" height="1.5" fill="#333"/>
<rect x="559.6" y="501.8" width="1.5" height="1.5" fill="#333"/>
<rect x="566.0" y="493.7" width="1.5" height="1.5" fill="#333"/>
<rect x="566.9" y="493.3" width="1.5" height="1.5" fill="#333"/>
<rect x="572.0" y="486.0" width="1.5" height="1.5" fill="#333"/>
<rect x="560.4" y="499.6" width="1.5" height="1.5" fill="#333"/>
<rect x="558.7" y="502.9" width="1.5" height="1.5" fill="#333"/>
<rect x="570.5" y="493.3" width="1.5" height="1.5" fill="#333"/>
<rect x="562.6" y="502.5" width="1.5" height="1.5" fill="#333"/>
<rect x="569.3" y="500.3" width="1.5" height="1.5" fill="#333"/>
<rect x="568.5" y="495.6" width="1.5" height="1.5" fill="#333"/>
<rect x="557.0" y="504.6" width="1.5" height="1.5" fill="#333"/>
<rect x="564.9" y="503.8" width="1.5" height="1.5" fill="#333"/>
<rect x="561.5" y="497.5" width="1.5" height="1.5" fill="#333"/>
<rect x="556.2" y="505.0" width="1.5" height="1.5" fill="#333"/>
<rect x="563.9" y="498.1" width="1.5" height="1.5" fill="#333"/>
<rect x="564.1" y="500.1" width="1.5" height="1.5" fill="#333"/>
<rect x="557.3" y="501.5" width="1.5" height="1.5" fill="#333"/>
<rect x="556.2" y="505.2" width="1.5" height="1.5" fill="#333"/>
<rect x="567.7" y="498.4" width="1.5" height="1.5" fill="#333"/>
<text x="606.5" y="534.7" font-size="12.5" font-weight="bold" fill="#111" textLength="93.6" lengthAdjust="spacingAndGlyphs">1D5 AQUA score</text>
<text transform="translate(527.5,492.4) rotate(-90)" font-size="12.5" font-weight="bold" fill="#111" textLength="92.0" lengthAdjust="spacingAndGlyphs">F10 AQUA score</text>
<text x="732.9" y="499.1" font-size="14.2" text-anchor="end" fill="#111">0.87</text>
<rect x="693.4" y="492.2" width="8.6" height="1.3" fill="#111"/>
<rect x="693.4" y="495.8" width="8.6" height="1.3" fill="#111"/>
<text x="687.4" y="493.7" font-size="8.6" text-anchor="middle" fill="#111">2</text>
<text x="679.3" y="499.1" font-size="14.2" fill="#111">r</text>
</svg>
</body></html>
